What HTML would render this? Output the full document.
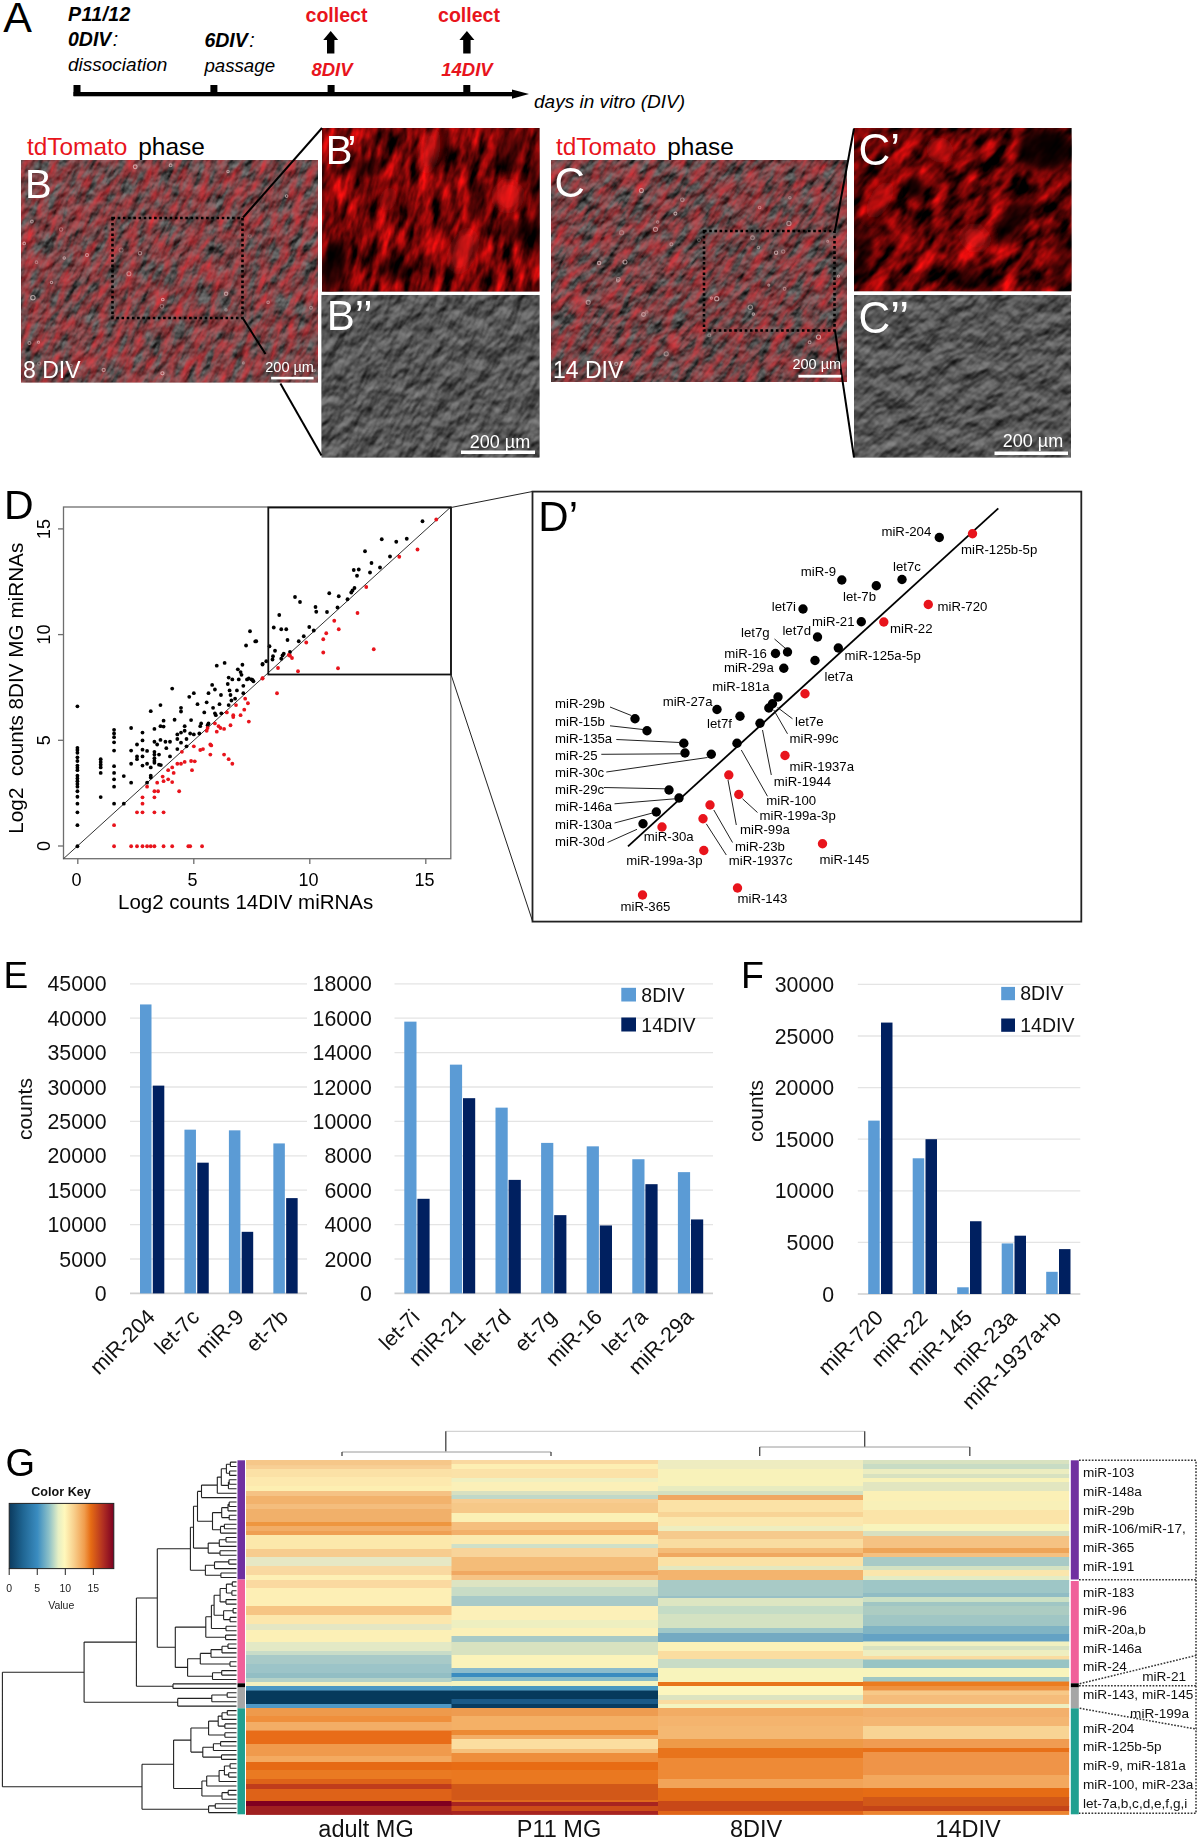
<!DOCTYPE html>
<html><head><meta charset="utf-8"><title>Figure</title>
<style>html,body{margin:0;padding:0;background:#fff;} body{width:1200px;height:1839px;overflow:hidden;font-family:"Liberation Sans", sans-serif;} svg{display:block;}</style>
</head><body>
<svg width="1200" height="1839" viewBox="0 0 1200 1839" font-family='"Liberation Sans", sans-serif'>
<rect width="1200" height="1839" fill="#fff"/>
<defs>
<filter id="fMerge" x="0" y="0" width="100%" height="100%" color-interpolation-filters="sRGB">
  <feTurbulence type="fractalNoise" baseFrequency="0.13 0.045" numOctaves="3" seed="7" result="n1"/>
  <feColorMatrix in="n1" type="matrix" values="0 0 0 0 0.88  0 0 0 0 0.2  0 0 0 0 0.23  1.6 0 0 0 -0.480" result="red"/>
  <feTurbulence type="fractalNoise" baseFrequency="0.1 0.06" numOctaves="3" seed="13" result="n2"/>
  <feColorMatrix in="n2" type="matrix" values="0 0 0 0 0  0 0 0 0 0  0 0 0 0 0  1 0 0 0 0" result="a"/>
  <feDiffuseLighting in="a" surfaceScale="3.5" diffuseConstant="1" lighting-color="#fff" result="l"><feDistantLight azimuth="235" elevation="32"/></feDiffuseLighting>
  <feComponentTransfer in="l" result="L"><feFuncR type="linear" slope="0.5" intercept="0.04"/><feFuncG type="linear" slope="0.5" intercept="0.04"/><feFuncB type="linear" slope="0.5" intercept="0.04"/></feComponentTransfer>
  <feComposite in="red" in2="L" operator="over"/>
</filter>
<filter id="fMerge2" x="0" y="0" width="100%" height="100%" color-interpolation-filters="sRGB">
  <feTurbulence type="fractalNoise" baseFrequency="0.13 0.045" numOctaves="3" seed="21" result="n1"/>
  <feColorMatrix in="n1" type="matrix" values="0 0 0 0 0.88  0 0 0 0 0.2  0 0 0 0 0.23  1.6 0 0 0 -0.512" result="red"/>
  <feTurbulence type="fractalNoise" baseFrequency="0.1 0.06" numOctaves="3" seed="17" result="n2"/>
  <feColorMatrix in="n2" type="matrix" values="0 0 0 0 0  0 0 0 0 0  0 0 0 0 0  1 0 0 0 0" result="a"/>
  <feDiffuseLighting in="a" surfaceScale="3.5" diffuseConstant="1" lighting-color="#fff" result="l"><feDistantLight azimuth="235" elevation="32"/></feDiffuseLighting>
  <feComponentTransfer in="l" result="L"><feFuncR type="linear" slope="0.5" intercept="0.03"/><feFuncG type="linear" slope="0.5" intercept="0.03"/><feFuncB type="linear" slope="0.5" intercept="0.03"/></feComponentTransfer>
  <feComposite in="red" in2="L" operator="over"/>
</filter>
<filter id="fRed" x="0" y="0" width="100%" height="100%" color-interpolation-filters="sRGB">
  <feTurbulence type="fractalNoise" baseFrequency="0.1 0.035" numOctaves="3" seed="4" result="n"/>
  <feColorMatrix in="n" type="matrix" values="1.7 0.0 0 0 -0.4  0.12 0.0 0 0 -0.035  0.12 0.0 0 0 -0.035  0 0 0 0 1"/>
</filter>
<filter id="fRed2" x="0" y="0" width="100%" height="100%" color-interpolation-filters="sRGB">
  <feTurbulence type="fractalNoise" baseFrequency="0.08 0.035" numOctaves="3" seed="11" result="n"/>
  <feColorMatrix in="n" type="matrix" values="1.8 0.0 0 0 -0.5  0.12 0.0 0 0 -0.04  0.12 0.0 0 0 -0.04  0 0 0 0 1"/>
</filter>
<filter id="fPhase" x="0" y="0" width="100%" height="100%" color-interpolation-filters="sRGB">
  <feTurbulence type="fractalNoise" baseFrequency="0.075 0.045" numOctaves="3" seed="5" result="n"/>
  <feColorMatrix in="n" type="matrix" values="0 0 0 0 0  0 0 0 0 0  0 0 0 0 0  1 0 0 0 0" result="a"/>
  <feDiffuseLighting in="a" surfaceScale="3.5" diffuseConstant="1" lighting-color="#fff" result="l"><feDistantLight azimuth="235" elevation="32"/></feDiffuseLighting>
  <feComponentTransfer in="l"><feFuncR type="linear" slope="0.5" intercept="0.075"/><feFuncG type="linear" slope="0.5" intercept="0.075"/><feFuncB type="linear" slope="0.5" intercept="0.075"/></feComponentTransfer>
</filter>
<filter id="fPhase2" x="0" y="0" width="100%" height="100%" color-interpolation-filters="sRGB">
  <feTurbulence type="fractalNoise" baseFrequency="0.07 0.045" numOctaves="3" seed="9" result="n"/>
  <feColorMatrix in="n" type="matrix" values="0 0 0 0 0  0 0 0 0 0  0 0 0 0 0  1 0 0 0 0" result="a"/>
  <feDiffuseLighting in="a" surfaceScale="3.5" diffuseConstant="1" lighting-color="#fff" result="l"><feDistantLight azimuth="235" elevation="32"/></feDiffuseLighting>
  <feComponentTransfer in="l"><feFuncR type="linear" slope="0.5" intercept="0.075"/><feFuncG type="linear" slope="0.5" intercept="0.075"/><feFuncB type="linear" slope="0.5" intercept="0.075"/></feComponentTransfer>
</filter>
<filter id="blur6" x="-20%" y="-20%" width="140%" height="140%"><feGaussianBlur stdDeviation="6"/></filter>
<filter id="blur1" x="-20%" y="-20%" width="140%" height="140%"><feGaussianBlur stdDeviation="0.6"/></filter>
<filter id="blur4" x="-20%" y="-20%" width="140%" height="140%"><feGaussianBlur stdDeviation="4"/></filter>
<clipPath id="cB"><rect x="21" y="160" width="297" height="222.5"/></clipPath>
<clipPath id="cB1"><rect x="322" y="128" width="217.5" height="163.5"/></clipPath>
<clipPath id="cB2"><rect x="321.5" y="295" width="218" height="162.5"/></clipPath>
<clipPath id="cC"><rect x="551" y="160" width="296" height="222"/></clipPath>
<clipPath id="cC1"><rect x="854" y="128" width="217.5" height="163.3"/></clipPath>
<clipPath id="cC2"><rect x="854" y="295" width="217" height="162.5"/></clipPath>
</defs>
<text x="3.30" y="31.80" font-size="43" fill="#000" text-anchor="start" font-weight="normal" font-style="normal" >A</text>
<text x="68" y="21" font-size="19.5" font-weight="bold" font-style="italic" letter-spacing="0.4">P11/12</text>
<text x="68" y="45.8" font-size="19.5" font-style="italic"><tspan font-weight="bold">0DIV</tspan><tspan dx="1.5">:</tspan></text>
<text x="68.00" y="71.30" font-size="19" fill="#000" text-anchor="start" font-weight="normal" font-style="italic" >dissociation</text>
<text x="204.4" y="47" font-size="19.5" font-style="italic"><tspan font-weight="bold">6DIV</tspan><tspan dx="1.5">:</tspan></text>
<text x="204.40" y="72.00" font-size="18.7" fill="#000" text-anchor="start" font-weight="normal" font-style="italic" >passage</text>
<text x="336.50" y="21.60" font-size="19.5" fill="#e8141c" text-anchor="middle" font-weight="bold" font-style="normal" >collect</text>
<text x="469.00" y="22.20" font-size="19.5" fill="#e8141c" text-anchor="middle" font-weight="bold" font-style="normal" >collect</text>
<text x="332.00" y="76.00" font-size="18.5" fill="#e8141c" text-anchor="middle" font-weight="bold" font-style="italic" >8DIV</text>
<text x="467.00" y="75.80" font-size="18.5" fill="#e8141c" text-anchor="middle" font-weight="bold" font-style="italic" >14DIV</text>
<polygon points="330.7,31 338.2,40 334.4,40 334.4,53.5 327.0,53.5 327.0,40 323.2,40" fill="#000"/>
<polygon points="466.9,31 474.4,40 470.6,40 470.6,53.5 463.2,53.5 463.2,40 459.4,40" fill="#000"/>
<rect x="73.50" y="92.00" width="442.00" height="4.30" fill="#000" />
<rect x="73.50" y="85.00" width="7.00" height="11.00" fill="#000" />
<rect x="210.40" y="85.00" width="7.00" height="11.00" fill="#000" />
<rect x="327.60" y="85.00" width="7.00" height="11.00" fill="#000" />
<rect x="463.30" y="85.00" width="7.00" height="11.00" fill="#000" />
<polygon points="512,89.6 529,94.1 512,98.8" fill="#000"/>
<text x="534.00" y="108.40" font-size="19" fill="#000" text-anchor="start" font-weight="normal" font-style="italic" >days in vitro (DIV)</text>
<text x="27.00" y="155.00" font-size="24.4" fill="#e8141c" text-anchor="start" font-weight="normal" font-style="normal" >tdTomato</text>
<text x="138.30" y="155.00" font-size="24.4" fill="#000" text-anchor="start" font-weight="normal" font-style="normal" >phase</text>
<text x="556.00" y="155.00" font-size="24.4" fill="#e8141c" text-anchor="start" font-weight="normal" font-style="normal" >tdTomato</text>
<text x="667.30" y="155.00" font-size="24.4" fill="#000" text-anchor="start" font-weight="normal" font-style="normal" >phase</text>
<g clip-path="url(#cB)"><rect x="21" y="160" width="297" height="222.5" fill="#7a5050"/><rect x="-16.1" y="85.7" width="371.1" height="371.1" filter="url(#fMerge)" transform="rotate(25 169.5 271.2)"/></g>
<g clip-path="url(#cB)" filter="url(#blur1)">
<circle cx="161.9" cy="306.3" r="1.8" fill="none" stroke="#f0d8d8" stroke-width="1.1" opacity="0.35"/>
<circle cx="24.2" cy="243.4" r="1.3" fill="none" stroke="#f0d8d8" stroke-width="1.1" opacity="0.58"/>
<circle cx="226.1" cy="293.8" r="1.7" fill="none" stroke="#f0d8d8" stroke-width="1.1" opacity="0.53"/>
<circle cx="64.2" cy="257.9" r="1.2" fill="none" stroke="#f0d8d8" stroke-width="1.1" opacity="0.62"/>
<circle cx="38.5" cy="342.2" r="1.1" fill="none" stroke="#f0d8d8" stroke-width="1.1" opacity="0.54"/>
<circle cx="121.1" cy="250.0" r="2.0" fill="none" stroke="#f0d8d8" stroke-width="1.1" opacity="0.31"/>
<circle cx="39.1" cy="363.6" r="1.6" fill="none" stroke="#f0d8d8" stroke-width="1.1" opacity="0.33"/>
<circle cx="314.2" cy="370.6" r="1.1" fill="none" stroke="#f0d8d8" stroke-width="1.1" opacity="0.45"/>
<circle cx="61.1" cy="229.5" r="1.7" fill="none" stroke="#f0d8d8" stroke-width="1.1" opacity="0.36"/>
<circle cx="228.0" cy="171.4" r="1.2" fill="none" stroke="#f0d8d8" stroke-width="1.1" opacity="0.59"/>
<circle cx="140.0" cy="253.2" r="1.7" fill="none" stroke="#f0d8d8" stroke-width="1.1" opacity="0.47"/>
<circle cx="135.2" cy="166.8" r="1.9" fill="none" stroke="#f0d8d8" stroke-width="1.1" opacity="0.64"/>
<circle cx="311.0" cy="307.7" r="1.4" fill="none" stroke="#f0d8d8" stroke-width="1.1" opacity="0.43"/>
<circle cx="226.0" cy="309.9" r="1.1" fill="none" stroke="#f0d8d8" stroke-width="1.1" opacity="0.38"/>
<circle cx="128.9" cy="273.8" r="2.0" fill="none" stroke="#f0d8d8" stroke-width="1.1" opacity="0.48"/>
<circle cx="29.4" cy="343.0" r="1.5" fill="none" stroke="#f0d8d8" stroke-width="1.1" opacity="0.48"/>
<circle cx="87.0" cy="255.1" r="1.5" fill="none" stroke="#f0d8d8" stroke-width="1.1" opacity="0.57"/>
<circle cx="51.5" cy="282.4" r="1.2" fill="none" stroke="#f0d8d8" stroke-width="1.1" opacity="0.54"/>
<circle cx="31.9" cy="221.5" r="1.4" fill="none" stroke="#f0d8d8" stroke-width="1.1" opacity="0.52"/>
<circle cx="36.5" cy="262.2" r="1.3" fill="none" stroke="#f0d8d8" stroke-width="1.1" opacity="0.40"/>
<circle cx="162.4" cy="373.3" r="1.6" fill="none" stroke="#f0d8d8" stroke-width="1.1" opacity="0.63"/>
<circle cx="70.8" cy="365.6" r="1.4" fill="none" stroke="#f0d8d8" stroke-width="1.1" opacity="0.37"/>
<circle cx="243.3" cy="362.9" r="1.0" fill="none" stroke="#f0d8d8" stroke-width="1.1" opacity="0.39"/>
<circle cx="249.9" cy="236.0" r="1.3" fill="none" stroke="#f0d8d8" stroke-width="1.1" opacity="0.30"/>
<circle cx="32.9" cy="297.7" r="2.2" fill="none" stroke="#f0d8d8" stroke-width="1.1" opacity="0.65"/>
<circle cx="170.6" cy="165.3" r="1.4" fill="none" stroke="#f0d8d8" stroke-width="1.1" opacity="0.58"/>
<circle cx="268.1" cy="302.3" r="1.3" fill="none" stroke="#f0d8d8" stroke-width="1.1" opacity="0.48"/>
<circle cx="162.8" cy="299.5" r="1.3" fill="none" stroke="#f0d8d8" stroke-width="1.1" opacity="0.63"/>
<circle cx="286.6" cy="196.1" r="1.3" fill="none" stroke="#f0d8d8" stroke-width="1.1" opacity="0.61"/>
<circle cx="103.7" cy="370.0" r="1.6" fill="none" stroke="#f0d8d8" stroke-width="1.1" opacity="0.54"/>
</g>
<g clip-path="url(#cB1)"><rect x="322" y="128" width="217.5" height="163.5" fill="#300000"/><rect x="294.7" y="73.7" width="272.1" height="272.1" filter="url(#fRed)" transform="rotate(14 430.8 209.8)"/></g>
<g clip-path="url(#cB1)" filter="url(#blur4)">
<ellipse cx="444" cy="145" rx="6" ry="20" fill="#000" opacity="0.9" transform="rotate(0 444 145)"/>
<ellipse cx="367" cy="166" rx="16" ry="8" fill="#000" opacity="0.6" transform="rotate(0 367 166)"/>
<ellipse cx="334" cy="266" rx="12" ry="28" fill="#000" opacity="0.8" transform="rotate(12 334 266)"/>
<ellipse cx="510" cy="152" rx="12" ry="20" fill="#000" opacity="0.6" transform="rotate(15 510 152)"/>
<ellipse cx="520" cy="230" rx="20" ry="10" fill="#000" opacity="0.55" transform="rotate(0 520 230)"/>
<ellipse cx="537" cy="205" rx="5" ry="60" fill="#000" opacity="0.6" transform="rotate(0 537 205)"/>
<ellipse cx="395" cy="270" rx="15" ry="12" fill="#000" opacity="0.5" transform="rotate(10 395 270)"/>
<ellipse cx="478" cy="200" rx="8" ry="18" fill="#000" opacity="0.5" transform="rotate(15 478 200)"/>
<ellipse cx="508" cy="196" rx="14" ry="15" fill="#ff1a1a" opacity="0.7" transform="rotate(20 508 196)"/>
<ellipse cx="429" cy="151" rx="8" ry="22" fill="#ff1a1a" opacity="0.6" transform="rotate(10 429 151)"/>
<ellipse cx="463" cy="251" rx="12" ry="22" fill="#ff1a1a" opacity="0.6" transform="rotate(20 463 251)"/>
<ellipse cx="388" cy="199" rx="8" ry="12" fill="#ff1a1a" opacity="0.5" transform="rotate(20 388 199)"/>
</g>
<g clip-path="url(#cB2)"><rect x="321.5" y="295" width="218" height="162.5" fill="#5a5a5a"/><rect x="294.5" y="240.3" width="271.9" height="271.9" filter="url(#fPhase)" transform="rotate(25 430.5 376.2)"/></g>
<g clip-path="url(#cC)"><rect x="551" y="160" width="296" height="222" fill="#7a5050"/><rect x="514.0" y="86.0" width="370.0" height="370.0" filter="url(#fMerge2)" transform="rotate(35 699.0 271.0)"/></g>
<g clip-path="url(#cC)" filter="url(#blur1)">
<circle cx="759.6" cy="207.5" r="1.3" fill="none" stroke="#f0d8d8" stroke-width="1.1" opacity="0.39"/>
<circle cx="753.3" cy="314.1" r="1.2" fill="none" stroke="#f0d8d8" stroke-width="1.1" opacity="0.61"/>
<circle cx="675.4" cy="213.6" r="1.5" fill="none" stroke="#f0d8d8" stroke-width="1.1" opacity="0.64"/>
<circle cx="716.7" cy="298.7" r="2.1" fill="none" stroke="#f0d8d8" stroke-width="1.1" opacity="0.64"/>
<circle cx="776.1" cy="252.7" r="1.7" fill="none" stroke="#f0d8d8" stroke-width="1.1" opacity="0.62"/>
<circle cx="784.6" cy="288.8" r="1.4" fill="none" stroke="#f0d8d8" stroke-width="1.1" opacity="0.43"/>
<circle cx="768.8" cy="285.1" r="1.0" fill="none" stroke="#f0d8d8" stroke-width="1.1" opacity="0.55"/>
<circle cx="818.5" cy="337.1" r="2.1" fill="none" stroke="#f0d8d8" stroke-width="1.1" opacity="0.62"/>
<circle cx="709.3" cy="335.2" r="1.5" fill="none" stroke="#f0d8d8" stroke-width="1.1" opacity="0.33"/>
<circle cx="655.5" cy="229.3" r="2.1" fill="none" stroke="#f0d8d8" stroke-width="1.1" opacity="0.54"/>
<circle cx="711.3" cy="298.1" r="1.1" fill="none" stroke="#f0d8d8" stroke-width="1.1" opacity="0.49"/>
<circle cx="758.4" cy="247.5" r="1.3" fill="none" stroke="#f0d8d8" stroke-width="1.1" opacity="0.44"/>
<circle cx="646.8" cy="312.1" r="1.2" fill="none" stroke="#f0d8d8" stroke-width="1.1" opacity="0.33"/>
<circle cx="643.5" cy="314.5" r="1.9" fill="none" stroke="#f0d8d8" stroke-width="1.1" opacity="0.53"/>
<circle cx="827.7" cy="241.2" r="1.0" fill="none" stroke="#f0d8d8" stroke-width="1.1" opacity="0.47"/>
<circle cx="682.3" cy="199.8" r="1.8" fill="none" stroke="#f0d8d8" stroke-width="1.1" opacity="0.42"/>
<circle cx="621.6" cy="232.7" r="2.1" fill="none" stroke="#f0d8d8" stroke-width="1.1" opacity="0.30"/>
<circle cx="657.7" cy="222.1" r="1.2" fill="none" stroke="#f0d8d8" stroke-width="1.1" opacity="0.45"/>
<circle cx="616.2" cy="364.0" r="1.6" fill="none" stroke="#f0d8d8" stroke-width="1.1" opacity="0.54"/>
<circle cx="599.1" cy="263.1" r="1.7" fill="none" stroke="#f0d8d8" stroke-width="1.1" opacity="0.60"/>
<circle cx="625.0" cy="262.0" r="2.0" fill="none" stroke="#f0d8d8" stroke-width="1.1" opacity="0.59"/>
<circle cx="618.3" cy="279.4" r="1.9" fill="none" stroke="#f0d8d8" stroke-width="1.1" opacity="0.44"/>
<circle cx="750.3" cy="307.2" r="2.2" fill="none" stroke="#f0d8d8" stroke-width="1.1" opacity="0.49"/>
<circle cx="752.5" cy="237.8" r="1.9" fill="none" stroke="#f0d8d8" stroke-width="1.1" opacity="0.41"/>
<circle cx="699.0" cy="240.1" r="1.4" fill="none" stroke="#f0d8d8" stroke-width="1.1" opacity="0.35"/>
<circle cx="617.8" cy="280.8" r="1.3" fill="none" stroke="#f0d8d8" stroke-width="1.1" opacity="0.32"/>
<circle cx="788.9" cy="223.4" r="2.1" fill="none" stroke="#f0d8d8" stroke-width="1.1" opacity="0.51"/>
<circle cx="666.2" cy="353.8" r="2.1" fill="none" stroke="#f0d8d8" stroke-width="1.1" opacity="0.41"/>
<circle cx="588.2" cy="302.3" r="2.0" fill="none" stroke="#f0d8d8" stroke-width="1.1" opacity="0.51"/>
<circle cx="783.2" cy="251.6" r="1.7" fill="none" stroke="#f0d8d8" stroke-width="1.1" opacity="0.39"/>
<circle cx="671.4" cy="244.3" r="1.5" fill="none" stroke="#f0d8d8" stroke-width="1.1" opacity="0.44"/>
<circle cx="789.9" cy="197.7" r="1.2" fill="none" stroke="#f0d8d8" stroke-width="1.1" opacity="0.39"/>
<circle cx="838.4" cy="276.1" r="1.1" fill="none" stroke="#f0d8d8" stroke-width="1.1" opacity="0.59"/>
<circle cx="809.6" cy="342.3" r="1.4" fill="none" stroke="#f0d8d8" stroke-width="1.1" opacity="0.56"/>
<circle cx="641.4" cy="190.5" r="2.0" fill="none" stroke="#f0d8d8" stroke-width="1.1" opacity="0.59"/>
</g>
<g clip-path="url(#cC1)"><rect x="854" y="128" width="217.5" height="163.3" fill="#300000"/><rect x="826.8" y="73.7" width="272.0" height="272.0" filter="url(#fRed2)" transform="rotate(40 962.8 209.7)"/></g>
<g clip-path="url(#cC1)" filter="url(#blur4)">
<ellipse cx="1045" cy="150" rx="28" ry="22" fill="#000" opacity="0.85" transform="rotate(0 1045 150)"/>
<ellipse cx="1012" cy="222" rx="10" ry="30" fill="#000" opacity="0.8" transform="rotate(40 1012 222)"/>
<ellipse cx="915" cy="188" rx="10" ry="12" fill="#000" opacity="0.9" transform="rotate(0 915 188)"/>
<ellipse cx="862" cy="250" rx="10" ry="35" fill="#000" opacity="0.6" transform="rotate(10 862 250)"/>
<ellipse cx="975" cy="280" rx="25" ry="10" fill="#000" opacity="0.5" transform="rotate(0 975 280)"/>
<ellipse cx="1060" cy="260" rx="12" ry="30" fill="#000" opacity="0.4" transform="rotate(0 1060 260)"/>
<ellipse cx="975" cy="238" rx="14" ry="12" fill="#ff1a1a" opacity="0.6" transform="rotate(30 975 238)"/>
<ellipse cx="880" cy="200" rx="10" ry="20" fill="#ff1a1a" opacity="0.5" transform="rotate(30 880 200)"/>
<ellipse cx="940" cy="150" rx="14" ry="12" fill="#ff1a1a" opacity="0.5" transform="rotate(30 940 150)"/>
</g>
<g clip-path="url(#cC2)"><rect x="854" y="295" width="217" height="162.5" fill="#5a5a5a"/><rect x="826.9" y="240.7" width="271.1" height="271.1" filter="url(#fPhase2)" transform="rotate(40 962.5 376.2)"/></g>
<rect x="112.5" y="218" width="130.0" height="100" fill="none" stroke="#000" stroke-width="2.6" stroke-dasharray="2.6 2.6"/>
<rect x="704" y="231" width="130.5" height="99.5" fill="none" stroke="#000" stroke-width="2.6" stroke-dasharray="2.6 2.6"/>
<line x1="243.00" y1="217.50" x2="322.00" y2="128.00" stroke="#000" stroke-width="2" />
<line x1="243.00" y1="318.50" x2="265.50" y2="354.00" stroke="#000" stroke-width="2" />
<line x1="280.40" y1="383.50" x2="321.50" y2="455.50" stroke="#000" stroke-width="2" />
<line x1="835.00" y1="230.50" x2="854.00" y2="128.50" stroke="#000" stroke-width="2" />
<line x1="835.00" y1="330.50" x2="854.00" y2="457.50" stroke="#000" stroke-width="2" />
<text x="25.00" y="197.50" font-size="40" fill="#ffffff" text-anchor="start" font-weight="normal" font-style="normal" >B</text>
<text x="325.8" y="163.7" font-size="40" fill="#fff">B<tspan dx="-5">’</tspan></text>
<text x="326.70" y="330.40" font-size="42" fill="#ffffff" text-anchor="start" font-weight="normal" font-style="normal" >B’’</text>
<text x="554.50" y="196.50" font-size="42" fill="#ffffff" text-anchor="start" font-weight="normal" font-style="normal" >C</text>
<text x="858.50" y="165.30" font-size="44" fill="#ffffff" text-anchor="start" font-weight="normal" font-style="normal" >C’</text>
<text x="858.50" y="333.00" font-size="44" fill="#ffffff" text-anchor="start" font-weight="normal" font-style="normal" >C’’</text>
<text x="23.00" y="378.00" font-size="23" fill="#ffffff" text-anchor="start" font-weight="normal" font-style="normal" >8 DIV</text>
<text x="553.00" y="378.00" font-size="23" fill="#ffffff" text-anchor="start" font-weight="normal" font-style="normal" >14 DIV</text>
<text x="289.60" y="371.60" font-size="14.5" fill="#ffffff" text-anchor="middle" font-weight="normal" font-style="normal" >200 µm</text>
<rect x="271.10" y="376.80" width="42.50" height="2.60" fill="#ffffff" />
<text x="816.80" y="369.00" font-size="14.5" fill="#ffffff" text-anchor="middle" font-weight="normal" font-style="normal" >200 µm</text>
<rect x="798.40" y="374.80" width="42.80" height="2.80" fill="#ffffff" />
<text x="500.00" y="448.00" font-size="18" fill="#ffffff" text-anchor="middle" font-weight="normal" font-style="normal" >200 µm</text>
<rect x="461.00" y="450.50" width="74.00" height="3.50" fill="#ffffff" />
<text x="1033.00" y="447.00" font-size="18" fill="#ffffff" text-anchor="middle" font-weight="normal" font-style="normal" >200 µm</text>
<rect x="994.50" y="451.50" width="73.50" height="3.50" fill="#ffffff" />
<text x="4.00" y="519.00" font-size="41" fill="#000" text-anchor="start" font-weight="normal" font-style="normal" >D</text>
<rect x="63.5" y="507" width="387.3" height="351.7" fill="none" stroke="#6e6e6e" stroke-width="1.3"/>
<line x1="58.00" y1="846.00" x2="63.50" y2="846.00" stroke="#6e6e6e" stroke-width="1.3" />
<text x="0" y="0" font-size="18" text-anchor="middle" transform="translate(50 846.0) rotate(-90)">0</text>
<line x1="58.00" y1="740.30" x2="63.50" y2="740.30" stroke="#6e6e6e" stroke-width="1.3" />
<text x="0" y="0" font-size="18" text-anchor="middle" transform="translate(50 740.3) rotate(-90)">5</text>
<line x1="58.00" y1="634.60" x2="63.50" y2="634.60" stroke="#6e6e6e" stroke-width="1.3" />
<text x="0" y="0" font-size="18" text-anchor="middle" transform="translate(50 634.6) rotate(-90)">10</text>
<line x1="58.00" y1="528.90" x2="63.50" y2="528.90" stroke="#6e6e6e" stroke-width="1.3" />
<text x="0" y="0" font-size="18" text-anchor="middle" transform="translate(50 528.9) rotate(-90)">15</text>
<line x1="77.80" y1="858.70" x2="77.80" y2="864.00" stroke="#6e6e6e" stroke-width="1.3" />
<text x="76.50" y="885.80" font-size="18" fill="#000" text-anchor="middle" font-weight="normal" font-style="normal" >0</text>
<line x1="193.80" y1="858.70" x2="193.80" y2="864.00" stroke="#6e6e6e" stroke-width="1.3" />
<text x="192.50" y="885.80" font-size="18" fill="#000" text-anchor="middle" font-weight="normal" font-style="normal" >5</text>
<line x1="309.80" y1="858.70" x2="309.80" y2="864.00" stroke="#6e6e6e" stroke-width="1.3" />
<text x="308.50" y="885.80" font-size="18" fill="#000" text-anchor="middle" font-weight="normal" font-style="normal" >10</text>
<line x1="425.80" y1="858.70" x2="425.80" y2="864.00" stroke="#6e6e6e" stroke-width="1.3" />
<text x="424.50" y="885.80" font-size="18" fill="#000" text-anchor="middle" font-weight="normal" font-style="normal" >15</text>
<text x="118.00" y="909.00" font-size="20.5" fill="#000" text-anchor="start" font-weight="normal" font-style="normal" >Log2 counts 14DIV miRNAs</text>
<text x="0" y="0" font-size="20.7" text-anchor="middle" transform="translate(22.8 688.2) rotate(-90)">Log2  counts 8DIV MG miRNAs</text>
<line x1="63.50" y1="858.70" x2="450.80" y2="507.00" stroke="#333" stroke-width="1" />
<circle cx="77.42" cy="706.37" r="1.9" fill="#000"/>
<circle cx="77.42" cy="747.80" r="1.9" fill="#000"/>
<circle cx="77.42" cy="750.00" r="1.9" fill="#000"/>
<circle cx="77.42" cy="752.75" r="1.9" fill="#000"/>
<circle cx="77.42" cy="757.33" r="1.9" fill="#000"/>
<circle cx="77.42" cy="761.00" r="1.9" fill="#000"/>
<circle cx="77.42" cy="765.58" r="1.9" fill="#000"/>
<circle cx="77.42" cy="767.78" r="1.9" fill="#000"/>
<circle cx="77.42" cy="770.17" r="1.9" fill="#000"/>
<circle cx="77.42" cy="775.67" r="1.9" fill="#000"/>
<circle cx="77.42" cy="778.42" r="1.9" fill="#000"/>
<circle cx="77.42" cy="781.17" r="1.9" fill="#000"/>
<circle cx="77.42" cy="783.92" r="1.9" fill="#000"/>
<circle cx="77.42" cy="786.67" r="1.9" fill="#000"/>
<circle cx="77.42" cy="791.25" r="1.9" fill="#000"/>
<circle cx="77.42" cy="796.75" r="1.9" fill="#000"/>
<circle cx="77.42" cy="803.72" r="1.9" fill="#000"/>
<circle cx="77.42" cy="812.33" r="1.9" fill="#000"/>
<circle cx="77.42" cy="825.17" r="1.9" fill="#000"/>
<circle cx="77.42" cy="846.25" r="1.9" fill="#000"/>
<circle cx="100.70" cy="759.17" r="1.9" fill="#000"/>
<circle cx="100.70" cy="761.92" r="1.9" fill="#000"/>
<circle cx="100.70" cy="764.67" r="1.9" fill="#000"/>
<circle cx="100.70" cy="767.42" r="1.9" fill="#000"/>
<circle cx="100.70" cy="772.92" r="1.9" fill="#000"/>
<circle cx="100.70" cy="797.12" r="1.9" fill="#000"/>
<circle cx="114.08" cy="729.83" r="1.9" fill="#000"/>
<circle cx="114.08" cy="733.50" r="1.9" fill="#000"/>
<circle cx="114.08" cy="737.17" r="1.9" fill="#000"/>
<circle cx="114.08" cy="742.30" r="1.9" fill="#000"/>
<circle cx="114.08" cy="750.55" r="1.9" fill="#000"/>
<circle cx="114.08" cy="766.13" r="1.9" fill="#000"/>
<circle cx="114.08" cy="772.92" r="1.9" fill="#000"/>
<circle cx="114.08" cy="779.33" r="1.9" fill="#000"/>
<circle cx="114.08" cy="786.67" r="1.9" fill="#000"/>
<circle cx="114.08" cy="803.72" r="1.9" fill="#000"/>
<circle cx="123.80" cy="776.03" r="1.9" fill="#000"/>
<circle cx="123.80" cy="803.72" r="1.9" fill="#000"/>
<circle cx="131.13" cy="728.00" r="1.9" fill="#000"/>
<circle cx="131.13" cy="750.55" r="1.9" fill="#000"/>
<circle cx="131.13" cy="763.75" r="1.9" fill="#000"/>
<circle cx="131.13" cy="782.63" r="1.9" fill="#000"/>
<circle cx="137.00" cy="744.50" r="1.9" fill="#000"/>
<circle cx="137.00" cy="756.42" r="1.9" fill="#000"/>
<circle cx="137.00" cy="759.17" r="1.9" fill="#000"/>
<circle cx="142.50" cy="732.58" r="1.9" fill="#000"/>
<circle cx="142.50" cy="740.47" r="1.9" fill="#000"/>
<circle cx="142.50" cy="749.63" r="1.9" fill="#000"/>
<circle cx="142.50" cy="756.42" r="1.9" fill="#000"/>
<circle cx="142.50" cy="765.58" r="1.9" fill="#000"/>
<circle cx="147.08" cy="750.92" r="1.9" fill="#000"/>
<circle cx="147.08" cy="763.75" r="1.9" fill="#000"/>
<circle cx="147.08" cy="782.63" r="1.9" fill="#000"/>
<circle cx="150.75" cy="711.13" r="1.9" fill="#000"/>
<circle cx="150.75" cy="775.67" r="1.9" fill="#000"/>
<circle cx="150.75" cy="777.50" r="1.9" fill="#000"/>
<circle cx="150.75" cy="767.42" r="1.9" fill="#000"/>
<circle cx="154.42" cy="728.92" r="1.9" fill="#000"/>
<circle cx="154.42" cy="741.75" r="1.9" fill="#000"/>
<circle cx="154.42" cy="751.83" r="1.9" fill="#000"/>
<circle cx="154.42" cy="754.58" r="1.9" fill="#000"/>
<circle cx="154.42" cy="758.25" r="1.9" fill="#000"/>
<circle cx="154.42" cy="761.00" r="1.9" fill="#000"/>
<circle cx="154.42" cy="762.83" r="1.9" fill="#000"/>
<circle cx="157.17" cy="744.50" r="1.9" fill="#000"/>
<circle cx="159.00" cy="754.58" r="1.9" fill="#000"/>
<circle cx="159.00" cy="764.67" r="1.9" fill="#000"/>
<circle cx="160.47" cy="705.08" r="1.9" fill="#000"/>
<circle cx="160.47" cy="726.17" r="1.9" fill="#000"/>
<circle cx="160.47" cy="739.92" r="1.9" fill="#000"/>
<circle cx="160.83" cy="765.03" r="1.9" fill="#000"/>
<circle cx="163.58" cy="720.67" r="1.9" fill="#000"/>
<circle cx="163.58" cy="726.53" r="1.9" fill="#000"/>
<circle cx="165.42" cy="741.75" r="1.9" fill="#000"/>
<circle cx="166.33" cy="748.17" r="1.9" fill="#000"/>
<circle cx="170.00" cy="741.75" r="1.9" fill="#000"/>
<circle cx="170.00" cy="756.42" r="1.9" fill="#000"/>
<circle cx="172.20" cy="688.58" r="1.9" fill="#000"/>
<circle cx="174.58" cy="719.75" r="1.9" fill="#000"/>
<circle cx="177.33" cy="734.42" r="1.9" fill="#000"/>
<circle cx="177.33" cy="739.00" r="1.9" fill="#000"/>
<circle cx="177.33" cy="749.08" r="1.9" fill="#000"/>
<circle cx="181.00" cy="707.83" r="1.9" fill="#000"/>
<circle cx="181.00" cy="711.50" r="1.9" fill="#000"/>
<circle cx="181.00" cy="732.58" r="1.9" fill="#000"/>
<circle cx="181.00" cy="742.67" r="1.9" fill="#000"/>
<circle cx="184.67" cy="726.17" r="1.9" fill="#000"/>
<circle cx="184.67" cy="730.75" r="1.9" fill="#000"/>
<circle cx="186.50" cy="739.00" r="1.9" fill="#000"/>
<circle cx="186.50" cy="746.33" r="1.9" fill="#000"/>
<circle cx="189.25" cy="696.83" r="1.9" fill="#000"/>
<circle cx="190.17" cy="733.50" r="1.9" fill="#000"/>
<circle cx="191.08" cy="720.12" r="1.9" fill="#000"/>
<circle cx="193.83" cy="693.17" r="1.9" fill="#000"/>
<circle cx="193.83" cy="734.42" r="1.9" fill="#000"/>
<circle cx="197.50" cy="704.17" r="1.9" fill="#000"/>
<circle cx="199.33" cy="733.50" r="1.9" fill="#000"/>
<circle cx="200.25" cy="726.17" r="1.9" fill="#000"/>
<circle cx="201.17" cy="723.42" r="1.9" fill="#000"/>
<circle cx="204.28" cy="712.42" r="1.9" fill="#000"/>
<circle cx="206.67" cy="702.33" r="1.9" fill="#000"/>
<circle cx="207.58" cy="725.25" r="1.9" fill="#000"/>
<circle cx="208.50" cy="723.42" r="1.9" fill="#000"/>
<circle cx="208.50" cy="693.17" r="1.9" fill="#000"/>
<circle cx="212.17" cy="684.92" r="1.9" fill="#000"/>
<circle cx="213.08" cy="707.83" r="1.9" fill="#000"/>
<circle cx="214.92" cy="689.50" r="1.9" fill="#000"/>
<circle cx="214.92" cy="713.33" r="1.9" fill="#000"/>
<circle cx="215.83" cy="715.17" r="1.9" fill="#000"/>
<circle cx="216.75" cy="665.67" r="1.9" fill="#000"/>
<circle cx="219.50" cy="704.17" r="1.9" fill="#000"/>
<circle cx="220.97" cy="695.00" r="1.9" fill="#000"/>
<circle cx="221.33" cy="713.33" r="1.9" fill="#000"/>
<circle cx="224.63" cy="662.92" r="1.9" fill="#000"/>
<circle cx="227.75" cy="684.00" r="1.9" fill="#000"/>
<circle cx="228.67" cy="677.58" r="1.9" fill="#000"/>
<circle cx="228.67" cy="705.08" r="1.9" fill="#000"/>
<circle cx="229.58" cy="690.42" r="1.9" fill="#000"/>
<circle cx="230.50" cy="695.00" r="1.9" fill="#000"/>
<circle cx="231.42" cy="700.50" r="1.9" fill="#000"/>
<circle cx="232.33" cy="679.42" r="1.9" fill="#000"/>
<circle cx="235.08" cy="698.67" r="1.9" fill="#000"/>
<circle cx="236.92" cy="690.42" r="1.9" fill="#000"/>
<circle cx="237.83" cy="669.33" r="1.9" fill="#000"/>
<circle cx="238.75" cy="679.42" r="1.9" fill="#000"/>
<circle cx="240.58" cy="672.08" r="1.9" fill="#000"/>
<circle cx="241.50" cy="674.83" r="1.9" fill="#000"/>
<circle cx="242.42" cy="664.75" r="1.9" fill="#000"/>
<circle cx="243.33" cy="685.83" r="1.9" fill="#000"/>
<circle cx="243.33" cy="693.17" r="1.9" fill="#000"/>
<circle cx="246.08" cy="645.50" r="1.9" fill="#000"/>
<circle cx="247.00" cy="679.42" r="1.9" fill="#000"/>
<circle cx="248.83" cy="678.50" r="1.9" fill="#000"/>
<circle cx="251.58" cy="679.42" r="1.9" fill="#000"/>
<circle cx="253.42" cy="681.25" r="1.9" fill="#000"/>
<circle cx="255.25" cy="641.47" r="1.9" fill="#000"/>
<circle cx="262.59" cy="663.83" r="1.9" fill="#000"/>
<circle cx="114.08" cy="825.17" r="1.9" fill="#e8141c"/>
<circle cx="114.08" cy="846.25" r="1.9" fill="#e8141c"/>
<circle cx="131.13" cy="846.25" r="1.9" fill="#e8141c"/>
<circle cx="137.00" cy="846.25" r="1.9" fill="#e8141c"/>
<circle cx="142.50" cy="846.25" r="1.9" fill="#e8141c"/>
<circle cx="147.08" cy="846.25" r="1.9" fill="#e8141c"/>
<circle cx="150.75" cy="846.25" r="1.9" fill="#e8141c"/>
<circle cx="154.42" cy="846.25" r="1.9" fill="#e8141c"/>
<circle cx="163.58" cy="846.25" r="1.9" fill="#e8141c"/>
<circle cx="172.20" cy="846.25" r="1.9" fill="#e8141c"/>
<circle cx="188.33" cy="846.25" r="1.9" fill="#e8141c"/>
<circle cx="190.17" cy="846.25" r="1.9" fill="#e8141c"/>
<circle cx="202.08" cy="846.25" r="1.9" fill="#e8141c"/>
<circle cx="137.00" cy="812.33" r="1.9" fill="#e8141c"/>
<circle cx="142.50" cy="812.33" r="1.9" fill="#e8141c"/>
<circle cx="154.42" cy="812.33" r="1.9" fill="#e8141c"/>
<circle cx="163.58" cy="812.33" r="1.9" fill="#e8141c"/>
<circle cx="142.50" cy="797.30" r="1.9" fill="#e8141c"/>
<circle cx="142.50" cy="803.72" r="1.9" fill="#e8141c"/>
<circle cx="154.42" cy="797.30" r="1.9" fill="#e8141c"/>
<circle cx="154.42" cy="791.25" r="1.9" fill="#e8141c"/>
<circle cx="158.08" cy="791.25" r="1.9" fill="#e8141c"/>
<circle cx="147.08" cy="786.67" r="1.9" fill="#e8141c"/>
<circle cx="157.17" cy="782.63" r="1.9" fill="#e8141c"/>
<circle cx="162.67" cy="776.58" r="1.9" fill="#e8141c"/>
<circle cx="163.58" cy="781.17" r="1.9" fill="#e8141c"/>
<circle cx="168.17" cy="770.17" r="1.9" fill="#e8141c"/>
<circle cx="168.17" cy="779.33" r="1.9" fill="#e8141c"/>
<circle cx="172.20" cy="767.42" r="1.9" fill="#e8141c"/>
<circle cx="172.20" cy="782.08" r="1.9" fill="#e8141c"/>
<circle cx="173.67" cy="772.92" r="1.9" fill="#e8141c"/>
<circle cx="179.17" cy="791.25" r="1.9" fill="#e8141c"/>
<circle cx="177.33" cy="763.75" r="1.9" fill="#e8141c"/>
<circle cx="181.00" cy="763.75" r="1.9" fill="#e8141c"/>
<circle cx="184.67" cy="761.92" r="1.9" fill="#e8141c"/>
<circle cx="191.08" cy="761.00" r="1.9" fill="#e8141c"/>
<circle cx="194.75" cy="761.37" r="1.9" fill="#e8141c"/>
<circle cx="192.00" cy="770.17" r="1.9" fill="#e8141c"/>
<circle cx="181.92" cy="751.83" r="1.9" fill="#e8141c"/>
<circle cx="193.83" cy="746.33" r="1.9" fill="#e8141c"/>
<circle cx="200.25" cy="750.00" r="1.9" fill="#e8141c"/>
<circle cx="203.00" cy="749.08" r="1.9" fill="#e8141c"/>
<circle cx="206.67" cy="730.75" r="1.9" fill="#e8141c"/>
<circle cx="207.58" cy="728.00" r="1.9" fill="#e8141c"/>
<circle cx="210.33" cy="744.50" r="1.9" fill="#e8141c"/>
<circle cx="211.25" cy="745.42" r="1.9" fill="#e8141c"/>
<circle cx="210.33" cy="754.58" r="1.9" fill="#e8141c"/>
<circle cx="214.92" cy="723.42" r="1.9" fill="#e8141c"/>
<circle cx="216.75" cy="731.67" r="1.9" fill="#e8141c"/>
<circle cx="218.58" cy="726.17" r="1.9" fill="#e8141c"/>
<circle cx="220.42" cy="728.00" r="1.9" fill="#e8141c"/>
<circle cx="224.08" cy="728.92" r="1.9" fill="#e8141c"/>
<circle cx="224.08" cy="754.58" r="1.9" fill="#e8141c"/>
<circle cx="228.67" cy="759.17" r="1.9" fill="#e8141c"/>
<circle cx="232.33" cy="763.75" r="1.9" fill="#e8141c"/>
<circle cx="230.50" cy="725.25" r="1.9" fill="#e8141c"/>
<circle cx="226.83" cy="712.42" r="1.9" fill="#e8141c"/>
<circle cx="233.25" cy="715.17" r="1.9" fill="#e8141c"/>
<circle cx="233.25" cy="717.00" r="1.9" fill="#e8141c"/>
<circle cx="236.00" cy="705.08" r="1.9" fill="#e8141c"/>
<circle cx="240.58" cy="715.17" r="1.9" fill="#e8141c"/>
<circle cx="244.25" cy="709.67" r="1.9" fill="#e8141c"/>
<circle cx="245.17" cy="698.67" r="1.9" fill="#e8141c"/>
<circle cx="247.92" cy="703.25" r="1.9" fill="#e8141c"/>
<circle cx="248.83" cy="721.58" r="1.9" fill="#e8141c"/>
<circle cx="262.59" cy="678.50" r="1.9" fill="#e8141c"/>
<circle cx="422.50" cy="521.25" r="1.9" fill="#000"/>
<circle cx="381.75" cy="539.25" r="1.9" fill="#000"/>
<circle cx="396.25" cy="541.75" r="1.9" fill="#000"/>
<circle cx="406.75" cy="538.75" r="1.9" fill="#000"/>
<circle cx="365.00" cy="551.25" r="1.9" fill="#000"/>
<circle cx="390.00" cy="556.50" r="1.9" fill="#000"/>
<circle cx="371.50" cy="563.00" r="1.9" fill="#000"/>
<circle cx="353.75" cy="570.00" r="1.9" fill="#000"/>
<circle cx="358.75" cy="569.50" r="1.9" fill="#000"/>
<circle cx="370.00" cy="572.50" r="1.9" fill="#000"/>
<circle cx="380.00" cy="567.50" r="1.9" fill="#000"/>
<circle cx="357.00" cy="575.75" r="1.9" fill="#000"/>
<circle cx="354.50" cy="588.00" r="1.9" fill="#000"/>
<circle cx="352.50" cy="590.50" r="1.9" fill="#000"/>
<circle cx="351.25" cy="592.50" r="1.9" fill="#000"/>
<circle cx="329.25" cy="593.25" r="1.9" fill="#000"/>
<circle cx="338.75" cy="596.25" r="1.9" fill="#000"/>
<circle cx="295.00" cy="597.00" r="1.9" fill="#000"/>
<circle cx="300.00" cy="602.00" r="1.9" fill="#000"/>
<circle cx="347.50" cy="599.25" r="1.9" fill="#000"/>
<circle cx="315.50" cy="607.00" r="1.9" fill="#000"/>
<circle cx="316.25" cy="611.75" r="1.9" fill="#000"/>
<circle cx="337.50" cy="607.50" r="1.9" fill="#000"/>
<circle cx="327.00" cy="612.00" r="1.9" fill="#000"/>
<circle cx="279.25" cy="615.00" r="1.9" fill="#000"/>
<circle cx="273.75" cy="627.50" r="1.9" fill="#000"/>
<circle cx="281.25" cy="629.25" r="1.9" fill="#000"/>
<circle cx="286.25" cy="629.25" r="1.9" fill="#000"/>
<circle cx="309.25" cy="627.00" r="1.9" fill="#000"/>
<circle cx="313.75" cy="630.50" r="1.9" fill="#000"/>
<circle cx="303.75" cy="636.25" r="1.9" fill="#000"/>
<circle cx="287.50" cy="640.00" r="1.9" fill="#000"/>
<circle cx="298.75" cy="641.25" r="1.9" fill="#000"/>
<circle cx="256.25" cy="641.25" r="1.9" fill="#000"/>
<circle cx="250.00" cy="631.25" r="1.9" fill="#000"/>
<circle cx="269.50" cy="646.25" r="1.9" fill="#000"/>
<circle cx="275.00" cy="650.75" r="1.9" fill="#000"/>
<circle cx="273.00" cy="656.25" r="1.9" fill="#000"/>
<circle cx="272.50" cy="659.50" r="1.9" fill="#000"/>
<circle cx="283.75" cy="653.75" r="1.9" fill="#000"/>
<circle cx="282.50" cy="655.50" r="1.9" fill="#000"/>
<circle cx="281.25" cy="658.75" r="1.9" fill="#000"/>
<circle cx="290.00" cy="652.00" r="1.9" fill="#000"/>
<circle cx="266.25" cy="661.25" r="1.9" fill="#000"/>
<circle cx="262.50" cy="664.50" r="1.9" fill="#000"/>
<circle cx="252.50" cy="680.00" r="1.9" fill="#000"/>
<circle cx="436.25" cy="519.50" r="1.9" fill="#e8141c"/>
<circle cx="417.50" cy="549.50" r="1.9" fill="#e8141c"/>
<circle cx="399.25" cy="556.75" r="1.9" fill="#e8141c"/>
<circle cx="366.25" cy="587.00" r="1.9" fill="#e8141c"/>
<circle cx="357.50" cy="613.00" r="1.9" fill="#e8141c"/>
<circle cx="334.25" cy="620.75" r="1.9" fill="#e8141c"/>
<circle cx="338.75" cy="629.25" r="1.9" fill="#e8141c"/>
<circle cx="326.25" cy="633.25" r="1.9" fill="#e8141c"/>
<circle cx="323.25" cy="639.25" r="1.9" fill="#e8141c"/>
<circle cx="306.25" cy="642.50" r="1.9" fill="#e8141c"/>
<circle cx="290.00" cy="655.75" r="1.9" fill="#e8141c"/>
<circle cx="292.00" cy="658.00" r="1.9" fill="#e8141c"/>
<circle cx="288.75" cy="655.00" r="1.9" fill="#e8141c"/>
<circle cx="323.25" cy="652.50" r="1.9" fill="#e8141c"/>
<circle cx="373.75" cy="649.25" r="1.9" fill="#e8141c"/>
<circle cx="278.00" cy="668.00" r="1.9" fill="#e8141c"/>
<circle cx="298.00" cy="671.25" r="1.9" fill="#e8141c"/>
<circle cx="338.00" cy="668.25" r="1.9" fill="#e8141c"/>
<circle cx="262.50" cy="678.25" r="1.9" fill="#e8141c"/>
<circle cx="277.00" cy="693.25" r="1.9" fill="#e8141c"/>
<rect x="268.3" y="507.5" width="182.7" height="167" fill="none" stroke="#111" stroke-width="1.8"/>
<line x1="451.00" y1="507.50" x2="532.50" y2="491.50" stroke="#222" stroke-width="1" />
<line x1="451.00" y1="674.50" x2="532.50" y2="921.00" stroke="#222" stroke-width="1" />
<rect x="532.5" y="491.6" width="548.8" height="430" fill="#fff" stroke="#222" stroke-width="1.8"/>
<text x="538.30" y="530.50" font-size="42" fill="#000" text-anchor="start" font-weight="normal" font-style="normal" >D’</text>
<line x1="628.00" y1="846.30" x2="998.30" y2="508.30" stroke="#000" stroke-width="1.8" />
<circle cx="939.30" cy="537.50" r="4.7" fill="#000"/>
<circle cx="972.50" cy="533.80" r="4.7" fill="#e8141c"/>
<circle cx="902.00" cy="579.50" r="4.7" fill="#000"/>
<circle cx="841.80" cy="580.00" r="4.7" fill="#000"/>
<circle cx="876.30" cy="585.80" r="4.7" fill="#000"/>
<circle cx="928.30" cy="604.50" r="4.7" fill="#e8141c"/>
<circle cx="803.00" cy="609.00" r="4.7" fill="#000"/>
<circle cx="861.30" cy="621.80" r="4.7" fill="#000"/>
<circle cx="883.80" cy="622.00" r="4.7" fill="#e8141c"/>
<circle cx="817.50" cy="637.00" r="4.7" fill="#000"/>
<circle cx="838.30" cy="648.00" r="4.7" fill="#000"/>
<circle cx="815.00" cy="660.50" r="4.7" fill="#000"/>
<circle cx="787.50" cy="652.00" r="4.7" fill="#000"/>
<circle cx="775.50" cy="653.50" r="4.7" fill="#000"/>
<circle cx="783.80" cy="668.20" r="4.7" fill="#000"/>
<circle cx="805.00" cy="693.80" r="4.7" fill="#e8141c"/>
<circle cx="778.00" cy="697.00" r="4.7" fill="#000"/>
<circle cx="772.50" cy="703.80" r="4.7" fill="#000"/>
<circle cx="768.80" cy="708.00" r="4.7" fill="#000"/>
<circle cx="717.00" cy="709.50" r="4.7" fill="#000"/>
<circle cx="740.00" cy="716.30" r="4.7" fill="#000"/>
<circle cx="760.00" cy="723.30" r="4.7" fill="#000"/>
<circle cx="737.00" cy="743.30" r="4.7" fill="#000"/>
<circle cx="785.00" cy="755.50" r="4.7" fill="#e8141c"/>
<circle cx="635.00" cy="718.80" r="4.7" fill="#000"/>
<circle cx="647.00" cy="730.80" r="4.7" fill="#000"/>
<circle cx="683.80" cy="743.30" r="4.7" fill="#000"/>
<circle cx="685.00" cy="753.00" r="4.7" fill="#000"/>
<circle cx="711.30" cy="754.30" r="4.7" fill="#000"/>
<circle cx="728.80" cy="775.00" r="4.7" fill="#e8141c"/>
<circle cx="738.80" cy="794.50" r="4.7" fill="#e8141c"/>
<circle cx="669.00" cy="790.00" r="4.7" fill="#000"/>
<circle cx="679.00" cy="798.00" r="4.7" fill="#000"/>
<circle cx="656.30" cy="812.00" r="4.7" fill="#000"/>
<circle cx="643.00" cy="823.80" r="4.7" fill="#000"/>
<circle cx="662.00" cy="827.00" r="4.7" fill="#e8141c"/>
<circle cx="710.00" cy="805.00" r="4.7" fill="#e8141c"/>
<circle cx="703.00" cy="818.80" r="4.7" fill="#e8141c"/>
<circle cx="703.80" cy="850.50" r="4.7" fill="#e8141c"/>
<circle cx="822.50" cy="843.80" r="4.7" fill="#e8141c"/>
<circle cx="737.50" cy="888.00" r="4.7" fill="#e8141c"/>
<circle cx="642.50" cy="895.00" r="4.7" fill="#e8141c"/>
<text x="931.30" y="536.00" font-size="13.2" fill="#000" text-anchor="end" font-weight="normal" font-style="normal" >miR-204</text>
<text x="961.00" y="553.80" font-size="13.2" fill="#000" text-anchor="start" font-weight="normal" font-style="normal" >miR-125b-5p</text>
<text x="893.00" y="571.00" font-size="13.2" fill="#000" text-anchor="start" font-weight="normal" font-style="normal" >let7c</text>
<text x="836.00" y="576.00" font-size="13.2" fill="#000" text-anchor="end" font-weight="normal" font-style="normal" >miR-9</text>
<text x="843.00" y="601.00" font-size="13.2" fill="#000" text-anchor="start" font-weight="normal" font-style="normal" >let-7b</text>
<text x="937.50" y="611.00" font-size="13.2" fill="#000" text-anchor="start" font-weight="normal" font-style="normal" >miR-720</text>
<text x="796.00" y="611.00" font-size="13.2" fill="#000" text-anchor="end" font-weight="normal" font-style="normal" >let7i</text>
<text x="854.50" y="626.00" font-size="13.2" fill="#000" text-anchor="end" font-weight="normal" font-style="normal" >miR-21</text>
<text x="890.00" y="632.50" font-size="13.2" fill="#000" text-anchor="start" font-weight="normal" font-style="normal" >miR-22</text>
<text x="811.00" y="635.00" font-size="13.2" fill="#000" text-anchor="end" font-weight="normal" font-style="normal" >let7d</text>
<text x="844.50" y="660.00" font-size="13.2" fill="#000" text-anchor="start" font-weight="normal" font-style="normal" >miR-125a-5p</text>
<text x="824.50" y="681.00" font-size="13.2" fill="#000" text-anchor="start" font-weight="normal" font-style="normal" >let7a</text>
<text x="741.00" y="636.70" font-size="13.2" fill="#000" text-anchor="start" font-weight="normal" font-style="normal" >let7g</text>
<text x="766.80" y="657.60" font-size="13.2" fill="#000" text-anchor="end" font-weight="normal" font-style="normal" >miR-16</text>
<text x="773.80" y="671.70" font-size="13.2" fill="#000" text-anchor="end" font-weight="normal" font-style="normal" >miR-29a</text>
<text x="769.50" y="691.30" font-size="13.2" fill="#000" text-anchor="end" font-weight="normal" font-style="normal" >miR-181a</text>
<text x="795.00" y="726.30" font-size="13.2" fill="#000" text-anchor="start" font-weight="normal" font-style="normal" >let7e</text>
<text x="789.50" y="742.50" font-size="13.2" fill="#000" text-anchor="start" font-weight="normal" font-style="normal" >miR-99c</text>
<text x="712.50" y="705.50" font-size="13.2" fill="#000" text-anchor="end" font-weight="normal" font-style="normal" >miR-27a</text>
<text x="732.00" y="727.50" font-size="13.2" fill="#000" text-anchor="end" font-weight="normal" font-style="normal" >let7f</text>
<text x="773.80" y="786.30" font-size="13.2" fill="#000" text-anchor="start" font-weight="normal" font-style="normal" >miR-1944</text>
<text x="766.30" y="805.00" font-size="13.2" fill="#000" text-anchor="start" font-weight="normal" font-style="normal" >miR-100</text>
<text x="789.50" y="770.50" font-size="13.2" fill="#000" text-anchor="start" font-weight="normal" font-style="normal" >miR-1937a</text>
<text x="555.00" y="708.00" font-size="13.2" fill="#000" text-anchor="start" font-weight="normal" font-style="normal" >miR-29b</text>
<text x="555.00" y="725.50" font-size="13.2" fill="#000" text-anchor="start" font-weight="normal" font-style="normal" >miR-15b</text>
<text x="555.00" y="742.50" font-size="13.2" fill="#000" text-anchor="start" font-weight="normal" font-style="normal" >miR-135a</text>
<text x="555.00" y="759.50" font-size="13.2" fill="#000" text-anchor="start" font-weight="normal" font-style="normal" >miR-25</text>
<text x="555.00" y="777.00" font-size="13.2" fill="#000" text-anchor="start" font-weight="normal" font-style="normal" >miR-30c</text>
<text x="740.00" y="833.80" font-size="13.2" fill="#000" text-anchor="start" font-weight="normal" font-style="normal" >miR-99a</text>
<text x="759.50" y="820.00" font-size="13.2" fill="#000" text-anchor="start" font-weight="normal" font-style="normal" >miR-199a-3p</text>
<text x="555.00" y="793.80" font-size="13.2" fill="#000" text-anchor="start" font-weight="normal" font-style="normal" >miR-29c</text>
<text x="555.00" y="811.30" font-size="13.2" fill="#000" text-anchor="start" font-weight="normal" font-style="normal" >miR-146a</text>
<text x="555.00" y="828.80" font-size="13.2" fill="#000" text-anchor="start" font-weight="normal" font-style="normal" >miR-130a</text>
<text x="555.00" y="846.30" font-size="13.2" fill="#000" text-anchor="start" font-weight="normal" font-style="normal" >miR-30d</text>
<text x="643.80" y="841.30" font-size="13.2" fill="#000" text-anchor="start" font-weight="normal" font-style="normal" >miR-30a</text>
<text x="735.00" y="851.30" font-size="13.2" fill="#000" text-anchor="start" font-weight="normal" font-style="normal" >miR-23b</text>
<text x="728.80" y="865.00" font-size="13.2" fill="#000" text-anchor="start" font-weight="normal" font-style="normal" >miR-1937c</text>
<text x="702.50" y="865.00" font-size="13.2" fill="#000" text-anchor="end" font-weight="normal" font-style="normal" >miR-199a-3p</text>
<text x="819.50" y="863.80" font-size="13.2" fill="#000" text-anchor="start" font-weight="normal" font-style="normal" >miR-145</text>
<text x="737.50" y="902.50" font-size="13.2" fill="#000" text-anchor="start" font-weight="normal" font-style="normal" >miR-143</text>
<text x="620.50" y="911.30" font-size="13.2" fill="#000" text-anchor="start" font-weight="normal" font-style="normal" >miR-365</text>
<line x1="774.50" y1="639.00" x2="785.00" y2="648.00" stroke="#222" stroke-width="1" />
<line x1="777.50" y1="707.50" x2="792.50" y2="718.80" stroke="#222" stroke-width="1" />
<line x1="773.80" y1="710.00" x2="787.50" y2="733.80" stroke="#222" stroke-width="1" />
<line x1="762.50" y1="730.00" x2="771.30" y2="775.00" stroke="#222" stroke-width="1" />
<line x1="741.30" y1="750.00" x2="767.50" y2="796.30" stroke="#222" stroke-width="1" />
<line x1="610.00" y1="707.00" x2="631.30" y2="715.50" stroke="#222" stroke-width="1" />
<line x1="610.00" y1="725.80" x2="643.00" y2="729.50" stroke="#222" stroke-width="1" />
<line x1="616.30" y1="739.50" x2="680.00" y2="742.50" stroke="#222" stroke-width="1" />
<line x1="601.30" y1="754.30" x2="681.30" y2="753.80" stroke="#222" stroke-width="1" />
<line x1="606.30" y1="772.00" x2="707.50" y2="757.50" stroke="#222" stroke-width="1" />
<line x1="728.00" y1="780.00" x2="736.30" y2="825.00" stroke="#222" stroke-width="1" />
<line x1="742.50" y1="798.80" x2="757.50" y2="812.50" stroke="#222" stroke-width="1" />
<line x1="603.80" y1="787.50" x2="665.00" y2="788.80" stroke="#222" stroke-width="1" />
<line x1="614.50" y1="803.80" x2="675.00" y2="798.80" stroke="#222" stroke-width="1" />
<line x1="614.50" y1="823.00" x2="652.50" y2="813.00" stroke="#222" stroke-width="1" />
<line x1="607.50" y1="842.50" x2="637.00" y2="829.30" stroke="#222" stroke-width="1" />
<line x1="713.80" y1="810.00" x2="732.50" y2="842.50" stroke="#222" stroke-width="1" />
<line x1="706.30" y1="823.80" x2="726.30" y2="855.00" stroke="#222" stroke-width="1" />
<text x="3.50" y="988.00" font-size="37" fill="#000" text-anchor="start" font-weight="normal" font-style="normal" >E</text>
<line x1="130.00" y1="1293.40" x2="307.00" y2="1293.40" stroke="#cfcfcf" stroke-width="1.6" />
<text x="106.70" y="1301.00" font-size="21.3" fill="#111" text-anchor="end" font-weight="normal" font-style="normal" >0</text>
<line x1="130.00" y1="1259.00" x2="307.00" y2="1259.00" stroke="#e4e4e4" stroke-width="1.3" />
<text x="106.70" y="1266.60" font-size="21.3" fill="#111" text-anchor="end" font-weight="normal" font-style="normal" >5000</text>
<line x1="130.00" y1="1224.60" x2="307.00" y2="1224.60" stroke="#e4e4e4" stroke-width="1.3" />
<text x="106.70" y="1232.20" font-size="21.3" fill="#111" text-anchor="end" font-weight="normal" font-style="normal" >10000</text>
<line x1="130.00" y1="1190.20" x2="307.00" y2="1190.20" stroke="#e4e4e4" stroke-width="1.3" />
<text x="106.70" y="1197.80" font-size="21.3" fill="#111" text-anchor="end" font-weight="normal" font-style="normal" >15000</text>
<line x1="130.00" y1="1155.80" x2="307.00" y2="1155.80" stroke="#e4e4e4" stroke-width="1.3" />
<text x="106.70" y="1163.40" font-size="21.3" fill="#111" text-anchor="end" font-weight="normal" font-style="normal" >20000</text>
<line x1="130.00" y1="1121.40" x2="307.00" y2="1121.40" stroke="#e4e4e4" stroke-width="1.3" />
<text x="106.70" y="1129.00" font-size="21.3" fill="#111" text-anchor="end" font-weight="normal" font-style="normal" >25000</text>
<line x1="130.00" y1="1087.00" x2="307.00" y2="1087.00" stroke="#e4e4e4" stroke-width="1.3" />
<text x="106.70" y="1094.60" font-size="21.3" fill="#111" text-anchor="end" font-weight="normal" font-style="normal" >30000</text>
<line x1="130.00" y1="1052.60" x2="307.00" y2="1052.60" stroke="#e4e4e4" stroke-width="1.3" />
<text x="106.70" y="1060.20" font-size="21.3" fill="#111" text-anchor="end" font-weight="normal" font-style="normal" >35000</text>
<line x1="130.00" y1="1018.20" x2="307.00" y2="1018.20" stroke="#e4e4e4" stroke-width="1.3" />
<text x="106.70" y="1025.80" font-size="21.3" fill="#111" text-anchor="end" font-weight="normal" font-style="normal" >40000</text>
<line x1="130.00" y1="983.80" x2="307.00" y2="983.80" stroke="#e4e4e4" stroke-width="1.3" />
<text x="106.70" y="991.40" font-size="21.3" fill="#111" text-anchor="end" font-weight="normal" font-style="normal" >45000</text>
<rect x="140.00" y="1004.44" width="11.50" height="288.96" fill="#5b9bd5" />
<rect x="152.80" y="1085.62" width="11.50" height="207.78" fill="#002060" />
<text x="0" y="0" font-size="21.5" fill="#111" text-anchor="end" transform="translate(156.2 1318.4) rotate(-45)">miR-204</text>
<rect x="184.45" y="1129.66" width="11.50" height="163.74" fill="#5b9bd5" />
<rect x="197.25" y="1162.68" width="11.50" height="130.72" fill="#002060" />
<text x="0" y="0" font-size="21.5" fill="#111" text-anchor="end" transform="translate(200.6 1318.4) rotate(-45)">let-7c</text>
<rect x="228.90" y="1130.34" width="11.50" height="163.06" fill="#5b9bd5" />
<rect x="241.70" y="1231.82" width="11.50" height="61.58" fill="#002060" />
<text x="0" y="0" font-size="21.5" fill="#111" text-anchor="end" transform="translate(245.1 1318.4) rotate(-45)">miR-9</text>
<rect x="273.35" y="1143.42" width="11.50" height="149.98" fill="#5b9bd5" />
<rect x="286.15" y="1198.11" width="11.50" height="95.29" fill="#002060" />
<text x="0" y="0" font-size="21.5" fill="#111" text-anchor="end" transform="translate(289.5 1318.4) rotate(-45)">et-7b</text>
<text x="0" y="0" font-size="21" fill="#111" text-anchor="middle" transform="translate(31.8 1109) rotate(-90)">counts</text>
<line x1="394.50" y1="1293.40" x2="713.00" y2="1293.40" stroke="#cfcfcf" stroke-width="1.6" />
<text x="371.80" y="1301.00" font-size="21.3" fill="#111" text-anchor="end" font-weight="normal" font-style="normal" >0</text>
<line x1="394.50" y1="1259.00" x2="713.00" y2="1259.00" stroke="#e4e4e4" stroke-width="1.3" />
<text x="371.80" y="1266.60" font-size="21.3" fill="#111" text-anchor="end" font-weight="normal" font-style="normal" >2000</text>
<line x1="394.50" y1="1224.60" x2="713.00" y2="1224.60" stroke="#e4e4e4" stroke-width="1.3" />
<text x="371.80" y="1232.20" font-size="21.3" fill="#111" text-anchor="end" font-weight="normal" font-style="normal" >4000</text>
<line x1="394.50" y1="1190.20" x2="713.00" y2="1190.20" stroke="#e4e4e4" stroke-width="1.3" />
<text x="371.80" y="1197.80" font-size="21.3" fill="#111" text-anchor="end" font-weight="normal" font-style="normal" >6000</text>
<line x1="394.50" y1="1155.80" x2="713.00" y2="1155.80" stroke="#e4e4e4" stroke-width="1.3" />
<text x="371.80" y="1163.40" font-size="21.3" fill="#111" text-anchor="end" font-weight="normal" font-style="normal" >8000</text>
<line x1="394.50" y1="1121.40" x2="713.00" y2="1121.40" stroke="#e4e4e4" stroke-width="1.3" />
<text x="371.80" y="1129.00" font-size="21.3" fill="#111" text-anchor="end" font-weight="normal" font-style="normal" >10000</text>
<line x1="394.50" y1="1087.00" x2="713.00" y2="1087.00" stroke="#e4e4e4" stroke-width="1.3" />
<text x="371.80" y="1094.60" font-size="21.3" fill="#111" text-anchor="end" font-weight="normal" font-style="normal" >12000</text>
<line x1="394.50" y1="1052.60" x2="713.00" y2="1052.60" stroke="#e4e4e4" stroke-width="1.3" />
<text x="371.80" y="1060.20" font-size="21.3" fill="#111" text-anchor="end" font-weight="normal" font-style="normal" >14000</text>
<line x1="394.50" y1="1018.20" x2="713.00" y2="1018.20" stroke="#e4e4e4" stroke-width="1.3" />
<text x="371.80" y="1025.80" font-size="21.3" fill="#111" text-anchor="end" font-weight="normal" font-style="normal" >16000</text>
<line x1="394.50" y1="983.80" x2="713.00" y2="983.80" stroke="#e4e4e4" stroke-width="1.3" />
<text x="371.80" y="991.40" font-size="21.3" fill="#111" text-anchor="end" font-weight="normal" font-style="normal" >18000</text>
<rect x="404.30" y="1021.64" width="12.20" height="271.76" fill="#5b9bd5" />
<rect x="417.40" y="1198.80" width="12.20" height="94.60" fill="#002060" />
<text x="0" y="0" font-size="21.5" fill="#111" text-anchor="end" transform="translate(420.9 1318.4) rotate(-45)">let-7i</text>
<rect x="449.90" y="1064.64" width="12.20" height="228.76" fill="#5b9bd5" />
<rect x="463.00" y="1098.18" width="12.20" height="195.22" fill="#002060" />
<text x="0" y="0" font-size="21.5" fill="#111" text-anchor="end" transform="translate(466.6 1318.4) rotate(-45)">miR-21</text>
<rect x="495.50" y="1107.64" width="12.20" height="185.76" fill="#5b9bd5" />
<rect x="508.60" y="1179.88" width="12.20" height="113.52" fill="#002060" />
<text x="0" y="0" font-size="21.5" fill="#111" text-anchor="end" transform="translate(512.1 1318.4) rotate(-45)">let-7d</text>
<rect x="541.10" y="1142.90" width="12.20" height="150.50" fill="#5b9bd5" />
<rect x="554.20" y="1215.14" width="12.20" height="78.26" fill="#002060" />
<text x="0" y="0" font-size="21.5" fill="#111" text-anchor="end" transform="translate(557.8 1318.4) rotate(-45)">et-7g</text>
<rect x="586.70" y="1146.34" width="12.20" height="147.06" fill="#5b9bd5" />
<rect x="599.80" y="1225.46" width="12.20" height="67.94" fill="#002060" />
<text x="0" y="0" font-size="21.5" fill="#111" text-anchor="end" transform="translate(603.4 1318.4) rotate(-45)">miR-16</text>
<rect x="632.30" y="1159.24" width="12.20" height="134.16" fill="#5b9bd5" />
<rect x="645.40" y="1184.18" width="12.20" height="109.22" fill="#002060" />
<text x="0" y="0" font-size="21.5" fill="#111" text-anchor="end" transform="translate(649.0 1318.4) rotate(-45)">let-7a</text>
<rect x="677.90" y="1172.14" width="12.20" height="121.26" fill="#5b9bd5" />
<rect x="691.00" y="1219.44" width="12.20" height="73.96" fill="#002060" />
<text x="0" y="0" font-size="21.5" fill="#111" text-anchor="end" transform="translate(694.6 1318.4) rotate(-45)">miR-29a</text>
<rect x="621.30" y="987.80" width="14.70" height="13.70" fill="#5b9bd5" />
<text x="641.30" y="1001.50" font-size="19.5" fill="#111" text-anchor="start" font-weight="normal" font-style="normal" >8DIV</text>
<rect x="621.30" y="1017.50" width="14.70" height="14.00" fill="#002060" />
<text x="641.30" y="1031.50" font-size="19.5" fill="#111" text-anchor="start" font-weight="normal" font-style="normal" >14DIV</text>
<text x="741.00" y="987.50" font-size="37.5" fill="#000" text-anchor="start" font-weight="normal" font-style="normal" >F</text>
<line x1="857.80" y1="1294.00" x2="1080.30" y2="1294.00" stroke="#cfcfcf" stroke-width="1.6" />
<text x="834.00" y="1301.60" font-size="21.3" fill="#111" text-anchor="end" font-weight="normal" font-style="normal" >0</text>
<line x1="857.80" y1="1242.40" x2="1080.30" y2="1242.40" stroke="#e4e4e4" stroke-width="1.3" />
<text x="834.00" y="1250.00" font-size="21.3" fill="#111" text-anchor="end" font-weight="normal" font-style="normal" >5000</text>
<line x1="857.80" y1="1190.80" x2="1080.30" y2="1190.80" stroke="#e4e4e4" stroke-width="1.3" />
<text x="834.00" y="1198.40" font-size="21.3" fill="#111" text-anchor="end" font-weight="normal" font-style="normal" >10000</text>
<line x1="857.80" y1="1139.20" x2="1080.30" y2="1139.20" stroke="#e4e4e4" stroke-width="1.3" />
<text x="834.00" y="1146.80" font-size="21.3" fill="#111" text-anchor="end" font-weight="normal" font-style="normal" >15000</text>
<line x1="857.80" y1="1087.60" x2="1080.30" y2="1087.60" stroke="#e4e4e4" stroke-width="1.3" />
<text x="834.00" y="1095.20" font-size="21.3" fill="#111" text-anchor="end" font-weight="normal" font-style="normal" >20000</text>
<line x1="857.80" y1="1036.00" x2="1080.30" y2="1036.00" stroke="#e4e4e4" stroke-width="1.3" />
<text x="834.00" y="1043.60" font-size="21.3" fill="#111" text-anchor="end" font-weight="normal" font-style="normal" >25000</text>
<line x1="857.80" y1="984.40" x2="1080.30" y2="984.40" stroke="#e4e4e4" stroke-width="1.3" />
<text x="834.00" y="992.00" font-size="21.3" fill="#111" text-anchor="end" font-weight="normal" font-style="normal" >30000</text>
<rect x="868.20" y="1120.62" width="11.50" height="173.38" fill="#5b9bd5" />
<rect x="881.00" y="1022.58" width="11.50" height="271.42" fill="#002060" />
<text x="0" y="0" font-size="21.5" fill="#111" text-anchor="end" transform="translate(884.4 1319.0) rotate(-45)">miR-720</text>
<rect x="912.70" y="1158.29" width="11.50" height="135.71" fill="#5b9bd5" />
<rect x="925.50" y="1139.20" width="11.50" height="154.80" fill="#002060" />
<text x="0" y="0" font-size="21.5" fill="#111" text-anchor="end" transform="translate(928.9 1319.0) rotate(-45)">miR-22</text>
<rect x="957.20" y="1287.29" width="11.50" height="6.71" fill="#5b9bd5" />
<rect x="970.00" y="1221.24" width="11.50" height="72.76" fill="#002060" />
<text x="0" y="0" font-size="21.5" fill="#111" text-anchor="end" transform="translate(973.4 1319.0) rotate(-45)">miR-145</text>
<rect x="1001.70" y="1243.43" width="11.50" height="50.57" fill="#5b9bd5" />
<rect x="1014.50" y="1235.69" width="11.50" height="58.31" fill="#002060" />
<text x="0" y="0" font-size="21.5" fill="#111" text-anchor="end" transform="translate(1017.9 1319.0) rotate(-45)">miR-23a</text>
<rect x="1046.20" y="1271.81" width="11.50" height="22.19" fill="#5b9bd5" />
<rect x="1059.00" y="1249.11" width="11.50" height="44.89" fill="#002060" />
<text x="0" y="0" font-size="21.5" fill="#111" text-anchor="end" transform="translate(1062.4 1319.0) rotate(-45)">miR-1937a+b</text>
<text x="0" y="0" font-size="21" fill="#111" text-anchor="middle" transform="translate(762.7 1111) rotate(-90)">counts</text>
<rect x="1001.20" y="986.90" width="13.80" height="13.30" fill="#5b9bd5" />
<text x="1020.20" y="1000.40" font-size="19.5" fill="#111" text-anchor="start" font-weight="normal" font-style="normal" >8DIV</text>
<rect x="1001.20" y="1018.50" width="13.80" height="13.30" fill="#002060" />
<text x="1020.20" y="1032.00" font-size="19.5" fill="#111" text-anchor="start" font-weight="normal" font-style="normal" >14DIV</text>
<text x="5.50" y="1476.00" font-size="38" fill="#000" text-anchor="start" font-weight="normal" font-style="normal" >G</text>
<rect x="246.00" y="1460.00" width="206.30" height="5.90" fill="#f6c789" />
<rect x="246.00" y="1465.50" width="206.30" height="3.90" fill="#f8cf94" />
<rect x="246.00" y="1469.00" width="206.30" height="8.40" fill="#fbe1a6" />
<rect x="246.00" y="1477.00" width="206.30" height="9.40" fill="#fde9ae" />
<rect x="246.00" y="1486.00" width="206.30" height="5.40" fill="#fdefb2" />
<rect x="246.00" y="1491.00" width="206.30" height="5.40" fill="#f5c284" />
<rect x="246.00" y="1496.00" width="206.30" height="8.40" fill="#f2b26c" />
<rect x="246.00" y="1504.00" width="206.30" height="5.40" fill="#f4bd7d" />
<rect x="246.00" y="1509.00" width="206.30" height="13.40" fill="#f1b06a" />
<rect x="246.00" y="1522.00" width="206.30" height="4.40" fill="#ee963f" />
<rect x="246.00" y="1526.00" width="206.30" height="5.40" fill="#f2ad66" />
<rect x="246.00" y="1531.00" width="206.30" height="4.40" fill="#ef9f52" />
<rect x="246.00" y="1535.00" width="206.30" height="14.40" fill="#fce8ab" />
<rect x="246.00" y="1549.00" width="206.30" height="8.40" fill="#f7cc8e" />
<rect x="246.00" y="1557.00" width="206.30" height="9.40" fill="#e6e8c4" />
<rect x="246.00" y="1566.00" width="206.30" height="9.40" fill="#f9d9a0" />
<rect x="246.00" y="1575.00" width="206.30" height="5.40" fill="#fdf0b5" />
<rect x="246.00" y="1580.00" width="206.30" height="8.40" fill="#fad9a0" />
<rect x="246.00" y="1588.00" width="206.30" height="18.40" fill="#fdefb5" />
<rect x="246.00" y="1606.00" width="206.30" height="9.40" fill="#f6c584" />
<rect x="246.00" y="1615.00" width="206.30" height="9.40" fill="#fce7ac" />
<rect x="246.00" y="1624.00" width="206.30" height="6.40" fill="#e5e7c3" />
<rect x="246.00" y="1630.00" width="206.30" height="12.40" fill="#fcf0b6" />
<rect x="246.00" y="1642.00" width="206.30" height="9.40" fill="#e3e9c5" />
<rect x="246.00" y="1651.00" width="206.30" height="4.40" fill="#c8dcc8" />
<rect x="246.00" y="1655.00" width="206.30" height="9.40" fill="#a8cac8" />
<rect x="246.00" y="1664.00" width="206.30" height="9.40" fill="#9cc4c8" />
<rect x="246.00" y="1673.00" width="206.30" height="5.40" fill="#92bec4" />
<rect x="246.00" y="1678.00" width="206.30" height="4.40" fill="#b4d2c8" />
<rect x="246.00" y="1682.00" width="206.30" height="4.40" fill="#f3f1c0" />
<rect x="246.00" y="1686.00" width="206.30" height="4.90" fill="#4a98c4" />
<rect x="246.00" y="1690.50" width="206.30" height="13.90" fill="#063a5c" />
<rect x="246.00" y="1704.00" width="206.30" height="4.40" fill="#5098c4" />
<rect x="246.00" y="1708.00" width="206.30" height="8.40" fill="#ee9a4c" />
<rect x="246.00" y="1716.00" width="206.30" height="6.40" fill="#ef8f3c" />
<rect x="246.00" y="1722.00" width="206.30" height="8.90" fill="#f3ad66" />
<rect x="246.00" y="1730.50" width="206.30" height="13.90" fill="#e86c18" />
<rect x="246.00" y="1744.00" width="206.30" height="12.40" fill="#f09a4c" />
<rect x="246.00" y="1756.00" width="206.30" height="6.40" fill="#f4aa60" />
<rect x="246.00" y="1762.00" width="206.30" height="8.40" fill="#e66a14" />
<rect x="246.00" y="1770.00" width="206.30" height="9.40" fill="#ea7a22" />
<rect x="246.00" y="1779.00" width="206.30" height="5.40" fill="#de6218" />
<rect x="246.00" y="1784.00" width="206.30" height="5.40" fill="#c03c1c" />
<rect x="246.00" y="1789.00" width="206.30" height="12.40" fill="#de6218" />
<rect x="246.00" y="1801.00" width="206.30" height="5.40" fill="#800020" />
<rect x="246.00" y="1806.00" width="206.30" height="8.90" fill="#a02020" />
<rect x="451.50" y="1460.00" width="207.30" height="4.40" fill="#fad9a0" />
<rect x="451.50" y="1464.00" width="207.30" height="5.40" fill="#fdefb3" />
<rect x="451.50" y="1469.00" width="207.30" height="9.40" fill="#fbe2a8" />
<rect x="451.50" y="1478.00" width="207.30" height="4.40" fill="#f0f0c0" />
<rect x="451.50" y="1482.00" width="207.30" height="9.40" fill="#fbf0b8" />
<rect x="451.50" y="1491.00" width="207.30" height="4.40" fill="#d8e0c0" />
<rect x="451.50" y="1495.00" width="207.30" height="4.40" fill="#c0d8c8" />
<rect x="451.50" y="1499.00" width="207.30" height="4.40" fill="#f8cc90" />
<rect x="451.50" y="1503.00" width="207.30" height="10.40" fill="#f6c888" />
<rect x="451.50" y="1513.00" width="207.30" height="9.40" fill="#fbf0b5" />
<rect x="451.50" y="1522.00" width="207.30" height="8.40" fill="#f5bf7e" />
<rect x="451.50" y="1530.00" width="207.30" height="5.40" fill="#f2b06a" />
<rect x="451.50" y="1535.00" width="207.30" height="9.40" fill="#fbeab0" />
<rect x="451.50" y="1544.00" width="207.30" height="4.40" fill="#cfe0c8" />
<rect x="451.50" y="1548.00" width="207.30" height="9.40" fill="#f8d49a" />
<rect x="451.50" y="1557.00" width="207.30" height="14.40" fill="#f4bc78" />
<rect x="451.50" y="1571.00" width="207.30" height="4.40" fill="#f0a862" />
<rect x="451.50" y="1575.00" width="207.30" height="5.40" fill="#f6c486" />
<rect x="451.50" y="1580.00" width="207.30" height="7.40" fill="#dde4c2" />
<rect x="451.50" y="1587.00" width="207.30" height="9.40" fill="#c8dcc6" />
<rect x="451.50" y="1596.00" width="207.30" height="10.40" fill="#a8cac8" />
<rect x="451.50" y="1606.00" width="207.30" height="14.40" fill="#fcf0b8" />
<rect x="451.50" y="1620.00" width="207.30" height="8.40" fill="#eeefc0" />
<rect x="451.50" y="1628.00" width="207.30" height="8.40" fill="#fbf0b8" />
<rect x="451.50" y="1636.00" width="207.30" height="6.40" fill="#a8cac6" />
<rect x="451.50" y="1642.00" width="207.30" height="13.40" fill="#d8e2c0" />
<rect x="451.50" y="1655.00" width="207.30" height="13.40" fill="#fbf3ba" />
<rect x="451.50" y="1668.00" width="207.30" height="5.40" fill="#8cbccc" />
<rect x="451.50" y="1673.00" width="207.30" height="4.40" fill="#3a8cc0" />
<rect x="451.50" y="1677.00" width="207.30" height="4.40" fill="#88bcc8" />
<rect x="451.50" y="1681.00" width="207.30" height="5.40" fill="#f4f4c0" />
<rect x="451.50" y="1686.00" width="207.30" height="4.90" fill="#4898c0" />
<rect x="451.50" y="1690.50" width="207.30" height="8.90" fill="#063a5c" />
<rect x="451.50" y="1699.00" width="207.30" height="5.40" fill="#1a5a88" />
<rect x="451.50" y="1704.00" width="207.30" height="4.40" fill="#083c60" />
<rect x="451.50" y="1708.00" width="207.30" height="8.40" fill="#ee9c50" />
<rect x="451.50" y="1716.00" width="207.30" height="14.40" fill="#f4b066" />
<rect x="451.50" y="1730.00" width="207.30" height="5.40" fill="#ec8a34" />
<rect x="451.50" y="1735.00" width="207.30" height="4.40" fill="#f3ae66" />
<rect x="451.50" y="1739.00" width="207.30" height="10.40" fill="#fbdea0" />
<rect x="451.50" y="1749.00" width="207.30" height="4.40" fill="#f5c07c" />
<rect x="451.50" y="1753.00" width="207.30" height="9.40" fill="#ee8e3c" />
<rect x="451.50" y="1762.00" width="207.30" height="8.40" fill="#e86c14" />
<rect x="451.50" y="1770.00" width="207.30" height="14.40" fill="#ea7820" />
<rect x="451.50" y="1784.00" width="207.30" height="16.40" fill="#d25818" />
<rect x="451.50" y="1800.00" width="207.30" height="2.40" fill="#e06a1c" />
<rect x="451.50" y="1802.00" width="207.30" height="4.40" fill="#a82420" />
<rect x="451.50" y="1806.00" width="207.30" height="5.40" fill="#cc4c18" />
<rect x="451.50" y="1811.00" width="207.30" height="3.90" fill="#a82420" />
<rect x="658.00" y="1460.00" width="205.80" height="9.40" fill="#eeecc0" />
<rect x="658.00" y="1469.00" width="205.80" height="17.40" fill="#f8f2ba" />
<rect x="658.00" y="1486.00" width="205.80" height="5.40" fill="#e8ecc0" />
<rect x="658.00" y="1491.00" width="205.80" height="4.40" fill="#d4e0c0" />
<rect x="658.00" y="1495.00" width="205.80" height="5.40" fill="#f0a862" />
<rect x="658.00" y="1500.00" width="205.80" height="12.40" fill="#fbe2a6" />
<rect x="658.00" y="1512.00" width="205.80" height="5.40" fill="#f8d496" />
<rect x="658.00" y="1517.00" width="205.80" height="9.40" fill="#fbe8ae" />
<rect x="658.00" y="1526.00" width="205.80" height="5.40" fill="#eeeec0" />
<rect x="658.00" y="1531.00" width="205.80" height="8.40" fill="#f6ca8c" />
<rect x="658.00" y="1539.00" width="205.80" height="9.40" fill="#f9dca0" />
<rect x="658.00" y="1548.00" width="205.80" height="5.40" fill="#f4bc78" />
<rect x="658.00" y="1553.00" width="205.80" height="4.40" fill="#f0a860" />
<rect x="658.00" y="1557.00" width="205.80" height="9.40" fill="#fbe2a6" />
<rect x="658.00" y="1566.00" width="205.80" height="4.40" fill="#e4e8c0" />
<rect x="658.00" y="1570.00" width="205.80" height="10.40" fill="#f3b46e" />
<rect x="658.00" y="1580.00" width="205.80" height="16.40" fill="#a8cac6" />
<rect x="658.00" y="1596.00" width="205.80" height="2.40" fill="#98c0c6" />
<rect x="658.00" y="1598.00" width="205.80" height="8.40" fill="#dde6c2" />
<rect x="658.00" y="1606.00" width="205.80" height="8.40" fill="#c4dcc6" />
<rect x="658.00" y="1614.00" width="205.80" height="14.40" fill="#d4e2c2" />
<rect x="658.00" y="1628.00" width="205.80" height="5.40" fill="#a0c8c8" />
<rect x="658.00" y="1633.00" width="205.80" height="9.40" fill="#74aac2" />
<rect x="658.00" y="1642.00" width="205.80" height="9.40" fill="#fbf2b8" />
<rect x="658.00" y="1651.00" width="205.80" height="8.40" fill="#fadda0" />
<rect x="658.00" y="1659.00" width="205.80" height="9.40" fill="#c8dcc6" />
<rect x="658.00" y="1668.00" width="205.80" height="14.40" fill="#f8f4bc" />
<rect x="658.00" y="1682.00" width="205.80" height="4.40" fill="#e8741a" />
<rect x="658.00" y="1686.00" width="205.80" height="9.40" fill="#fcf6be" />
<rect x="658.00" y="1695.00" width="205.80" height="5.40" fill="#dde4c0" />
<rect x="658.00" y="1700.00" width="205.80" height="4.40" fill="#fadca0" />
<rect x="658.00" y="1704.00" width="205.80" height="4.40" fill="#f4f4c0" />
<rect x="658.00" y="1708.00" width="205.80" height="8.40" fill="#f2ac64" />
<rect x="658.00" y="1716.00" width="205.80" height="10.40" fill="#f4b46e" />
<rect x="658.00" y="1726.00" width="205.80" height="13.40" fill="#f4b872" />
<rect x="658.00" y="1739.00" width="205.80" height="9.40" fill="#ee9a48" />
<rect x="658.00" y="1748.00" width="205.80" height="10.40" fill="#e8741c" />
<rect x="658.00" y="1758.00" width="205.80" height="21.40" fill="#ee8a36" />
<rect x="658.00" y="1779.00" width="205.80" height="9.40" fill="#f2a458" />
<rect x="658.00" y="1788.00" width="205.80" height="13.40" fill="#e26a16" />
<rect x="658.00" y="1801.00" width="205.80" height="10.40" fill="#c84818" />
<rect x="658.00" y="1811.00" width="205.80" height="3.90" fill="#e06418" />
<rect x="863.00" y="1460.00" width="206.20" height="4.40" fill="#d8e2c0" />
<rect x="863.00" y="1464.00" width="206.20" height="5.40" fill="#c8dcc4" />
<rect x="863.00" y="1469.00" width="206.20" height="5.40" fill="#ecedc0" />
<rect x="863.00" y="1474.00" width="206.20" height="4.40" fill="#d8e2c0" />
<rect x="863.00" y="1478.00" width="206.20" height="4.40" fill="#f8f2b8" />
<rect x="863.00" y="1482.00" width="206.20" height="9.40" fill="#e2e6c0" />
<rect x="863.00" y="1491.00" width="206.20" height="10.40" fill="#fbf0b6" />
<rect x="863.00" y="1501.00" width="206.20" height="9.40" fill="#f8f0b8" />
<rect x="863.00" y="1510.00" width="206.20" height="14.40" fill="#fbe4a8" />
<rect x="863.00" y="1524.00" width="206.20" height="7.40" fill="#f8f4bc" />
<rect x="863.00" y="1531.00" width="206.20" height="5.40" fill="#d8e0c0" />
<rect x="863.00" y="1536.00" width="206.20" height="12.40" fill="#f5c283" />
<rect x="863.00" y="1548.00" width="206.20" height="5.40" fill="#eea458" />
<rect x="863.00" y="1553.00" width="206.20" height="4.40" fill="#f5c080" />
<rect x="863.00" y="1557.00" width="206.20" height="9.40" fill="#a8cac6" />
<rect x="863.00" y="1566.00" width="206.20" height="4.40" fill="#d4e2c2" />
<rect x="863.00" y="1570.00" width="206.20" height="6.40" fill="#fae6ac" />
<rect x="863.00" y="1576.00" width="206.20" height="4.40" fill="#e4ecc4" />
<rect x="863.00" y="1580.00" width="206.20" height="13.40" fill="#9ec6c6" />
<rect x="863.00" y="1593.00" width="206.20" height="4.40" fill="#90bcc4" />
<rect x="863.00" y="1597.00" width="206.20" height="5.40" fill="#cce0c4" />
<rect x="863.00" y="1602.00" width="206.20" height="4.40" fill="#a0c6c4" />
<rect x="863.00" y="1606.00" width="206.20" height="9.40" fill="#acccc2" />
<rect x="863.00" y="1615.00" width="206.20" height="11.40" fill="#a0c6c4" />
<rect x="863.00" y="1626.00" width="206.20" height="8.40" fill="#80b4c4" />
<rect x="863.00" y="1634.00" width="206.20" height="7.90" fill="#64a2c4" />
<rect x="863.00" y="1641.50" width="206.20" height="4.90" fill="#f0f0c0" />
<rect x="863.00" y="1646.00" width="206.20" height="4.40" fill="#d8e2c0" />
<rect x="863.00" y="1650.00" width="206.20" height="6.40" fill="#eeeec0" />
<rect x="863.00" y="1656.00" width="206.20" height="3.90" fill="#fadca0" />
<rect x="863.00" y="1659.50" width="206.20" height="8.90" fill="#98c4c4" />
<rect x="863.00" y="1668.00" width="206.20" height="9.40" fill="#f8f4bc" />
<rect x="863.00" y="1677.00" width="206.20" height="4.90" fill="#a0c8c4" />
<rect x="863.00" y="1681.50" width="206.20" height="4.90" fill="#ec7c20" />
<rect x="863.00" y="1686.00" width="206.20" height="4.90" fill="#ef9240" />
<rect x="863.00" y="1690.50" width="206.20" height="4.90" fill="#f7c887" />
<rect x="863.00" y="1695.00" width="206.20" height="9.40" fill="#f5bc7a" />
<rect x="863.00" y="1704.00" width="206.20" height="4.40" fill="#eeeec0" />
<rect x="863.00" y="1708.00" width="206.20" height="9.40" fill="#f3b06c" />
<rect x="863.00" y="1717.00" width="206.20" height="9.40" fill="#f4b672" />
<rect x="863.00" y="1726.00" width="206.20" height="13.40" fill="#f8d494" />
<rect x="863.00" y="1739.00" width="206.20" height="9.40" fill="#f09c52" />
<rect x="863.00" y="1748.00" width="206.20" height="4.40" fill="#e87018" />
<rect x="863.00" y="1752.00" width="206.20" height="23.40" fill="#ef9448" />
<rect x="863.00" y="1775.00" width="206.20" height="13.40" fill="#f3a85e" />
<rect x="863.00" y="1788.00" width="206.20" height="9.40" fill="#e66c14" />
<rect x="863.00" y="1797.00" width="206.20" height="9.40" fill="#d25818" />
<rect x="863.00" y="1806.00" width="206.20" height="5.40" fill="#c44418" />
<rect x="863.00" y="1811.00" width="206.20" height="3.90" fill="#ec8430" />
<rect x="237.50" y="1460.30" width="7.50" height="119.20" fill="#7030a0" />
<rect x="237.50" y="1579.50" width="7.50" height="103.80" fill="#f0609a" />
<rect x="237.50" y="1683.30" width="7.50" height="4.20" fill="#000" />
<rect x="237.50" y="1687.50" width="7.50" height="20.80" fill="#a6a6a6" />
<rect x="237.50" y="1708.30" width="7.50" height="106.00" fill="#20a090" />
<rect x="1070.80" y="1460.30" width="8.00" height="119.20" fill="#7030a0" />
<rect x="1070.80" y="1581.00" width="8.00" height="102.30" fill="#f0609a" />
<rect x="1070.80" y="1683.30" width="8.00" height="4.20" fill="#000" />
<rect x="1070.80" y="1687.50" width="8.00" height="20.80" fill="#a6a6a6" />
<rect x="1070.80" y="1708.30" width="8.00" height="106.00" fill="#20a090" />
<path d="M230.4 1462.1L230.4 1466.5 M230.4 1462.1L236.5 1462.1 M230.4 1466.5L236.5 1466.5 M229.6 1471.0L229.6 1475.4 M229.6 1471.0L236.5 1471.0 M229.6 1475.4L236.5 1475.4 M226.4 1464.3L226.4 1473.2 M226.4 1464.3L230.4 1464.3 M226.4 1473.2L229.6 1473.2 M229.2 1479.8L229.2 1484.3 M229.2 1479.8L236.5 1479.8 M229.2 1484.3L236.5 1484.3 M228.4 1482.1L228.4 1488.7 M228.4 1482.1L229.2 1482.1 M228.4 1488.7L236.5 1488.7 M221.3 1468.8L221.3 1485.4 M221.3 1468.8L226.4 1468.8 M221.3 1485.4L228.4 1485.4 M217.3 1477.1L217.3 1493.2 M217.3 1477.1L221.3 1477.1 M217.3 1493.2L236.5 1493.2 M201.5 1485.1L201.5 1497.6 M201.5 1485.1L217.3 1485.1 M201.5 1497.6L236.5 1497.6 M229.2 1502.0L229.2 1506.5 M229.2 1502.0L236.5 1502.0 M229.2 1506.5L236.5 1506.5 M228.0 1504.2L228.0 1510.9 M228.0 1504.2L229.2 1504.2 M228.0 1510.9L236.5 1510.9 M229.2 1515.3L229.2 1519.8 M229.2 1515.3L236.5 1515.3 M229.2 1519.8L236.5 1519.8 M221.7 1507.6L221.7 1517.6 M221.7 1507.6L228.0 1507.6 M221.7 1517.6L229.2 1517.6 M224.4 1524.2L224.4 1528.7 M224.4 1524.2L236.5 1524.2 M224.4 1528.7L236.5 1528.7 M220.5 1526.4L220.5 1533.1 M220.5 1526.4L224.4 1526.4 M220.5 1533.1L236.5 1533.1 M212.5 1512.6L212.5 1529.8 M212.5 1512.6L221.7 1512.6 M212.5 1529.8L220.5 1529.8 M197.5 1491.4L197.5 1521.2 M197.5 1491.4L201.5 1491.4 M197.5 1521.2L212.5 1521.2 M226.0 1537.5L226.0 1542.0 M226.0 1537.5L236.5 1537.5 M226.0 1542.0L236.5 1542.0 M219.3 1539.7L219.3 1546.4 M219.3 1539.7L226.0 1539.7 M219.3 1546.4L236.5 1546.4 M220.0 1550.8L220.0 1555.3 M220.0 1550.8L236.5 1550.8 M220.0 1555.3L236.5 1555.3 M208.2 1543.1L208.2 1553.1 M208.2 1543.1L219.3 1543.1 M208.2 1553.1L220.0 1553.1 M193.5 1506.3L193.5 1548.1 M193.5 1506.3L197.5 1506.3 M193.5 1548.1L208.2 1548.1 M228.8 1559.7L228.8 1564.1 M228.8 1559.7L236.5 1559.7 M228.8 1564.1L236.5 1564.1 M214.5 1561.9L214.5 1568.6 M214.5 1561.9L228.8 1561.9 M214.5 1568.6L236.5 1568.6 M220.9 1573.0L220.9 1577.5 M220.9 1573.0L236.5 1573.0 M220.9 1577.5L236.5 1577.5 M205.4 1565.3L205.4 1575.2 M205.4 1565.3L214.5 1565.3 M205.4 1575.2L220.9 1575.2 M190.4 1527.2L190.4 1570.2 M190.4 1527.2L193.5 1527.2 M190.4 1570.2L205.4 1570.2 M232.3 1581.9L232.3 1586.3 M232.3 1581.9L236.5 1581.9 M232.3 1586.3L236.5 1586.3 M231.9 1590.8L231.9 1595.2 M231.9 1590.8L236.5 1590.8 M231.9 1595.2L236.5 1595.2 M226.4 1584.1L226.4 1593.0 M226.4 1584.1L232.3 1584.1 M226.4 1593.0L231.9 1593.0 M226.0 1599.6L226.0 1604.1 M226.0 1599.6L236.5 1599.6 M226.0 1604.1L236.5 1604.1 M220.1 1588.5L220.1 1601.9 M220.1 1588.5L226.4 1588.5 M220.1 1601.9L226.0 1601.9 M233.1 1608.5L233.1 1612.9 M233.1 1608.5L236.5 1608.5 M233.1 1612.9L236.5 1612.9 M230.0 1617.4L230.0 1621.8 M230.0 1617.4L236.5 1617.4 M230.0 1621.8L236.5 1621.8 M223.6 1610.7L223.6 1619.6 M223.6 1610.7L233.1 1610.7 M223.6 1619.6L230.0 1619.6 M214.1 1595.2L214.1 1615.2 M214.1 1595.2L220.1 1595.2 M214.1 1615.2L223.6 1615.2 M226.0 1626.3L226.0 1630.7 M226.0 1626.3L236.5 1626.3 M226.0 1630.7L236.5 1630.7 M211.4 1605.2L211.4 1628.5 M211.4 1605.2L214.1 1605.2 M211.4 1628.5L226.0 1628.5 M225.6 1635.1L225.6 1639.6 M225.6 1635.1L236.5 1635.1 M225.6 1639.6L236.5 1639.6 M205.8 1616.8L205.8 1637.3 M205.8 1616.8L211.4 1616.8 M205.8 1637.3L225.6 1637.3 M228.0 1644.0L228.0 1648.4 M228.0 1644.0L236.5 1644.0 M228.0 1648.4L236.5 1648.4 M222.0 1646.2L222.0 1652.9 M222.0 1646.2L228.0 1646.2 M222.0 1652.9L236.5 1652.9 M211.0 1649.6L211.0 1657.3 M211.0 1649.6L222.0 1649.6 M211.0 1657.3L236.5 1657.3 M230.0 1661.8L230.0 1666.2 M230.0 1661.8L236.5 1661.8 M230.0 1666.2L236.5 1666.2 M200.3 1653.4L200.3 1664.0 M200.3 1653.4L211.0 1653.4 M200.3 1664.0L230.0 1664.0 M221.7 1670.6L221.7 1675.1 M221.7 1670.6L236.5 1670.6 M221.7 1675.1L236.5 1675.1 M212.5 1672.8L212.5 1679.5 M212.5 1672.8L221.7 1672.8 M212.5 1679.5L236.5 1679.5 M187.6 1658.7L187.6 1676.2 M187.6 1658.7L200.3 1658.7 M187.6 1676.2L212.5 1676.2 M175.3 1627.1L175.3 1667.4 M175.3 1627.1L205.8 1627.1 M175.3 1667.4L187.6 1667.4 M173.0 1683.9L173.0 1688.4 M173.0 1683.9L236.5 1683.9 M173.0 1688.4L236.5 1688.4 M227.2 1692.8L227.2 1697.2 M227.2 1692.8L236.5 1692.8 M227.2 1697.2L236.5 1697.2 M211.8 1695.0L211.8 1701.7 M211.8 1695.0L227.2 1695.0 M211.8 1701.7L236.5 1701.7 M177.7 1698.4L177.7 1706.1 M177.7 1698.4L211.8 1698.4 M177.7 1706.1L236.5 1706.1 M227.3 1710.6L227.3 1715.0 M227.3 1710.6L236.5 1710.6 M227.3 1715.0L236.5 1715.0 M222.0 1712.8L222.0 1719.4 M222.0 1712.8L227.3 1712.8 M222.0 1719.4L236.5 1719.4 M224.9 1723.9L224.9 1728.3 M224.9 1723.9L236.5 1723.9 M224.9 1728.3L236.5 1728.3 M218.2 1716.1L218.2 1726.1 M218.2 1716.1L222.0 1716.1 M218.2 1726.1L224.9 1726.1 M224.9 1732.7L224.9 1737.2 M224.9 1732.7L236.5 1732.7 M224.9 1737.2L236.5 1737.2 M208.6 1721.1L208.6 1735.0 M208.6 1721.1L218.2 1721.1 M208.6 1735.0L224.9 1735.0 M220.6 1741.6L220.6 1746.0 M220.6 1741.6L236.5 1741.6 M220.6 1746.0L236.5 1746.0 M213.4 1743.8L213.4 1750.5 M213.4 1743.8L220.6 1743.8 M213.4 1750.5L236.5 1750.5 M221.5 1754.9L221.5 1759.4 M221.5 1754.9L236.5 1754.9 M221.5 1759.4L236.5 1759.4 M202.8 1747.2L202.8 1757.1 M202.8 1747.2L213.4 1747.2 M202.8 1757.1L221.5 1757.1 M190.9 1728.0L190.9 1752.1 M190.9 1728.0L208.6 1728.0 M190.9 1752.1L202.8 1752.1 M230.1 1763.8L230.1 1768.2 M230.1 1763.8L236.5 1763.8 M230.1 1768.2L236.5 1768.2 M228.7 1772.7L228.7 1777.1 M228.7 1772.7L236.5 1772.7 M228.7 1777.1L236.5 1777.1 M224.4 1766.0L224.4 1774.9 M224.4 1766.0L230.1 1766.0 M224.4 1774.9L228.7 1774.9 M219.1 1770.5L219.1 1781.5 M219.1 1770.5L224.4 1770.5 M219.1 1781.5L236.5 1781.5 M206.7 1776.0L206.7 1786.0 M206.7 1776.0L219.1 1776.0 M206.7 1786.0L236.5 1786.0 M228.2 1790.4L228.2 1794.9 M228.2 1790.4L236.5 1790.4 M228.2 1794.9L236.5 1794.9 M222.0 1792.6L222.0 1799.3 M222.0 1792.6L228.2 1792.6 M222.0 1799.3L236.5 1799.3 M201.9 1781.0L201.9 1796.0 M201.9 1781.0L206.7 1781.0 M201.9 1796.0L222.0 1796.0 M173.6 1740.1L173.6 1788.5 M173.6 1740.1L190.9 1740.1 M173.6 1788.5L201.9 1788.5 M215.3 1803.7L215.3 1808.2 M215.3 1803.7L236.5 1803.7 M215.3 1808.2L236.5 1808.2 M208.6 1805.9L208.6 1812.6 M208.6 1805.9L215.3 1805.9 M208.6 1812.6L236.5 1812.6 M142.0 1764.3L142.0 1809.3 M142.0 1764.3L173.6 1764.3 M142.0 1809.3L208.6 1809.3 M157.3 1548.7L157.3 1647.3 M157.3 1548.7L190.4 1548.7 M157.3 1647.3L175.3 1647.3 M136.4 1598.0L136.4 1686.2 M136.4 1598.0L157.3 1598.0 M136.4 1686.2L173.0 1686.2 M84.1 1642.1L84.1 1702.2 M84.1 1642.1L136.4 1642.1 M84.1 1702.2L177.7 1702.2 M2.4 1672.2L2.4 1786.8 M2.4 1672.2L84.1 1672.2 M2.4 1786.8L142.0 1786.8" stroke="#222" stroke-width="1.1" fill="none"/>
<line x1="445.80" y1="1431.30" x2="864.70" y2="1431.30" stroke="#c8c8c8" stroke-width="1" />
<line x1="445.80" y1="1431.30" x2="445.80" y2="1451.50" stroke="#444" stroke-width="1.3" />
<line x1="864.70" y1="1431.30" x2="864.70" y2="1447.00" stroke="#444" stroke-width="1.3" />
<line x1="342.00" y1="1452.00" x2="551.00" y2="1452.00" stroke="#9a9a9a" stroke-width="1" />
<line x1="342.00" y1="1452.00" x2="342.00" y2="1456.00" stroke="#444" stroke-width="1.3" />
<line x1="551.00" y1="1452.00" x2="551.00" y2="1456.00" stroke="#444" stroke-width="1.3" />
<line x1="759.70" y1="1447.00" x2="969.80" y2="1447.00" stroke="#9a9a9a" stroke-width="1" />
<line x1="759.70" y1="1447.00" x2="759.70" y2="1456.00" stroke="#444" stroke-width="1.3" />
<line x1="969.80" y1="1447.00" x2="969.80" y2="1456.00" stroke="#444" stroke-width="1.3" />
<text x="366.00" y="1836.70" font-size="23.5" fill="#111" text-anchor="middle" font-weight="normal" font-style="normal" >adult MG</text>
<text x="559.00" y="1836.70" font-size="23.5" fill="#111" text-anchor="middle" font-weight="normal" font-style="normal" >P11 MG</text>
<text x="756.00" y="1836.70" font-size="23.5" fill="#111" text-anchor="middle" font-weight="normal" font-style="normal" >8DIV</text>
<text x="968.00" y="1836.70" font-size="23.5" fill="#111" text-anchor="middle" font-weight="normal" font-style="normal" >14DIV</text>
<defs><linearGradient id="gk" x1="0" x2="1" y1="0" y2="0">
<stop offset="0" stop-color="#0b3a5e"/><stop offset="0.13" stop-color="#1f6592"/><stop offset="0.27" stop-color="#3a8cc0"/>
<stop offset="0.38" stop-color="#8cc0c8"/><stop offset="0.47" stop-color="#e6efc4"/><stop offset="0.53" stop-color="#fff8bc"/>
<stop offset="0.62" stop-color="#f8cf8c"/><stop offset="0.72" stop-color="#f09c4c"/><stop offset="0.78" stop-color="#e66c14"/>
<stop offset="0.9" stop-color="#b02e22"/><stop offset="1" stop-color="#7c0022"/></linearGradient></defs>
<rect x="9.2" y="1503.4" width="104.6" height="65.2" fill="url(#gk)" stroke="#222" stroke-width="1"/>
<text x="61.00" y="1495.50" font-size="12.6" fill="#111" text-anchor="middle" font-weight="bold" font-style="normal" >Color Key</text>
<line x1="9.20" y1="1568.60" x2="9.20" y2="1575.00" stroke="#222" stroke-width="1" />
<text x="9.20" y="1592.00" font-size="10.5" fill="#222" text-anchor="middle" font-weight="normal" font-style="normal" >0</text>
<line x1="37.25" y1="1568.60" x2="37.25" y2="1575.00" stroke="#222" stroke-width="1" />
<text x="37.25" y="1592.00" font-size="10.5" fill="#222" text-anchor="middle" font-weight="normal" font-style="normal" >5</text>
<line x1="65.30" y1="1568.60" x2="65.30" y2="1575.00" stroke="#222" stroke-width="1" />
<text x="65.30" y="1592.00" font-size="10.5" fill="#222" text-anchor="middle" font-weight="normal" font-style="normal" >10</text>
<line x1="93.35" y1="1568.60" x2="93.35" y2="1575.00" stroke="#222" stroke-width="1" />
<text x="93.35" y="1592.00" font-size="10.5" fill="#222" text-anchor="middle" font-weight="normal" font-style="normal" >15</text>
<text x="61.20" y="1608.70" font-size="10.5" fill="#222" text-anchor="middle" font-weight="normal" font-style="normal" >Value</text>
<path d="M1079 1460.3 H1196 V1813.3 H1079 M1079 1579.7 H1196 M1079 1685.8 H1196 M1079.7 1683.7 L1196.7 1655.3 M1079.7 1708.3 L1196.7 1729.2" stroke="#333" stroke-width="1.5" stroke-dasharray="1.7 1.5" fill="none"/>
<text x="1083.00" y="1477.00" font-size="13.6" fill="#111" text-anchor="start" font-weight="normal" font-style="normal" >miR-103</text>
<text x="1083.00" y="1495.80" font-size="13.6" fill="#111" text-anchor="start" font-weight="normal" font-style="normal" >miR-148a</text>
<text x="1083.00" y="1514.70" font-size="13.6" fill="#111" text-anchor="start" font-weight="normal" font-style="normal" >miR-29b</text>
<text x="1083.00" y="1533.30" font-size="13.6" fill="#111" text-anchor="start" font-weight="normal" font-style="normal" >miR-106/miR-17,</text>
<text x="1083.00" y="1552.00" font-size="13.6" fill="#111" text-anchor="start" font-weight="normal" font-style="normal" >miR-365</text>
<text x="1083.00" y="1570.80" font-size="13.6" fill="#111" text-anchor="start" font-weight="normal" font-style="normal" >miR-191</text>
<text x="1083.00" y="1596.70" font-size="13.6" fill="#111" text-anchor="start" font-weight="normal" font-style="normal" >miR-183</text>
<text x="1083.00" y="1615.30" font-size="13.6" fill="#111" text-anchor="start" font-weight="normal" font-style="normal" >miR-96</text>
<text x="1083.00" y="1634.20" font-size="13.6" fill="#111" text-anchor="start" font-weight="normal" font-style="normal" >miR-20a,b</text>
<text x="1083.00" y="1652.50" font-size="13.6" fill="#111" text-anchor="start" font-weight="normal" font-style="normal" >miR-146a</text>
<text x="1083.00" y="1671.30" font-size="13.6" fill="#111" text-anchor="start" font-weight="normal" font-style="normal" >miR-24</text>
<text x="1083.00" y="1699.20" font-size="13.6" fill="#111" text-anchor="start" font-weight="normal" font-style="normal" >miR-143, miR-145</text>
<text x="1083.00" y="1732.50" font-size="13.6" fill="#111" text-anchor="start" font-weight="normal" font-style="normal" >miR-204</text>
<text x="1083.00" y="1751.30" font-size="13.6" fill="#111" text-anchor="start" font-weight="normal" font-style="normal" >miR-125b-5p</text>
<text x="1083.00" y="1770.00" font-size="13.6" fill="#111" text-anchor="start" font-weight="normal" font-style="normal" >miR-9, miR-181a</text>
<text x="1083.00" y="1788.70" font-size="13.6" fill="#111" text-anchor="start" font-weight="normal" font-style="normal" >miR-100, miR-23a</text>
<text x="1083.00" y="1807.50" font-size="13.6" fill="#111" text-anchor="start" font-weight="normal" font-style="normal" >let-7a,b,c,d,e,f,g,i</text>
<text x="1186.00" y="1680.80" font-size="13.6" fill="#111" text-anchor="end" font-weight="normal" font-style="normal" >miR-21</text>
<text x="1189.00" y="1717.50" font-size="13.6" fill="#111" text-anchor="end" font-weight="normal" font-style="normal" >miR-199a</text>
</svg>
</body></html>
